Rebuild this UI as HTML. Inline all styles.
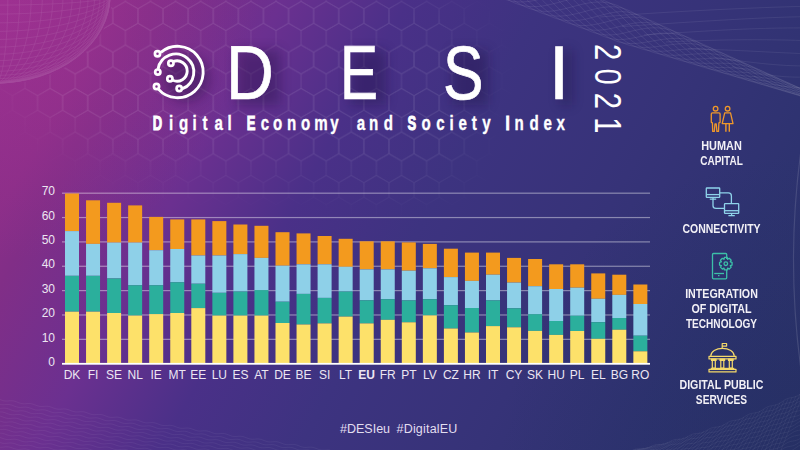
<!DOCTYPE html>
<html><head><meta charset="utf-8"><style>
html,body{margin:0;padding:0;}
body{width:800px;height:450px;overflow:hidden;position:relative;
background:linear-gradient(118.8deg,#922e8b 0%,#8a2e88 11%,#812e87 15%,#6b3090 27%,#4a3088 39%,#3d3380 52%,#363378 69%,#2e3370 84%,#2a3268 100%);
font-family:"Liberation Sans",sans-serif;}
svg{position:absolute;left:0;top:0;}
.t{position:absolute;color:#fff;white-space:nowrap;}
.big{font-size:76px;line-height:1;top:35px;transform-origin:0 0;-webkit-text-stroke:0.7px #fff;}
.sub{font-size:20px;top:112px;left:152px;letter-spacing:3.26px;}
.sub b{font-weight:bold;}
.yr{font-size:36.5px;line-height:1;left:625px;top:43.5px;transform-origin:0 0;transform:rotate(90deg) scaleX(0.8);letter-spacing:10.2px;}
.leg{position:absolute;left:651px;width:141px;text-align:center;color:#f2f0f6;font-weight:bold;font-size:12px;line-height:15px;transform-origin:70.5px 0;}
.hash{position:absolute;top:422px;color:#e2def0;font-size:12.5px;}
</style></head><body>
<svg width="800" height="450" viewBox="0 0 800 450"><defs>
<pattern id="hx" width="25.1" height="43.5" patternUnits="userSpaceOnUse" patternTransform="translate(276 16)">
<path d="M0 -14.5 L12.55 -7.25 L12.55 7.25 L0 14.5 L-12.55 7.25 L-12.55 -7.25ZM25.1 -14.5 L37.65 -7.25 L37.65 7.25 L25.1 14.5 L12.55 7.25 L12.55 -7.25ZM0 29 L12.55 36.25 L12.55 50.75 L0 58 L-12.55 50.75 L-12.55 36.25ZM25.1 29 L37.65 36.25 L37.65 50.75 L25.1 58 L12.55 50.75 L12.55 36.25ZM12.55 7.25 L25.1 14.5 L25.1 29 L12.55 36.25 L0 29 L0 14.5Z" fill="none" stroke="#fff" stroke-width="0.9"/>
</pattern>
<radialGradient id="hm" cx="250" cy="120" r="330" gradientUnits="userSpaceOnUse">
<stop offset="0" stop-color="#fff" stop-opacity="1"/>
<stop offset="0.55" stop-color="#fff" stop-opacity="0.7"/>
<stop offset="1" stop-color="#fff" stop-opacity="0"/>
</radialGradient>
<filter id="mb" x="-50%" y="-50%" width="200%" height="200%"><feGaussianBlur stdDeviation="22"/></filter><mask id="hmask"><g filter="url(#mb)"><ellipse cx="250" cy="70" rx="235" ry="105" fill="#fff"/><ellipse cx="380" cy="150" rx="90" ry="40" fill="#fff"/></g><ellipse cx="-4" cy="-4" rx="116" ry="89" fill="#000"/></mask>
<radialGradient id="tl" cx="0" cy="0" r="260" gradientUnits="userSpaceOnUse">
<stop offset="0" stop-color="#b0359a" stop-opacity="0.4"/>
<stop offset="1" stop-color="#b0359a" stop-opacity="0"/>
</radialGradient>
<radialGradient id="br" cx="800" cy="450" r="300" gradientUnits="userSpaceOnUse">
<stop offset="0" stop-color="#1c2a5a" stop-opacity="0.3"/>
<stop offset="1" stop-color="#1c2a5a" stop-opacity="0"/>
</radialGradient>
<filter id="sh" x="-50%" y="-50%" width="200%" height="200%"><feGaussianBlur stdDeviation="6"/></filter>
</defs><rect width="800" height="450" fill="url(#tl)"/><rect width="800" height="450" fill="url(#br)"/><rect width="800" height="450" fill="url(#hx)" mask="url(#hmask)" opacity="0.1"/><g fill="none" stroke="#fff" stroke-width="0.55" opacity="0.12"><ellipse cx="-4" cy="-4" rx="114" ry="9.09"/><ellipse cx="-4" cy="-4" rx="11.92" ry="87"/><ellipse cx="-4" cy="-4" rx="114" ry="18.09"/><ellipse cx="-4" cy="-4" rx="23.7" ry="87"/><ellipse cx="-4" cy="-4" rx="114" ry="26.88"/><ellipse cx="-4" cy="-4" rx="35.23" ry="87"/><ellipse cx="-4" cy="-4" rx="114" ry="35.39"/><ellipse cx="-4" cy="-4" rx="46.37" ry="87"/><ellipse cx="-4" cy="-4" rx="114" ry="43.5"/><ellipse cx="-4" cy="-4" rx="57" ry="87"/><ellipse cx="-4" cy="-4" rx="114" ry="51.14"/><ellipse cx="-4" cy="-4" rx="67.01" ry="87"/><ellipse cx="-4" cy="-4" rx="114" ry="58.21"/><ellipse cx="-4" cy="-4" rx="76.28" ry="87"/><ellipse cx="-4" cy="-4" rx="114" ry="64.65"/><ellipse cx="-4" cy="-4" rx="84.72" ry="87"/><ellipse cx="-4" cy="-4" rx="114" ry="70.38"/><ellipse cx="-4" cy="-4" rx="92.23" ry="87"/><ellipse cx="-4" cy="-4" rx="114" ry="75.34"/><ellipse cx="-4" cy="-4" rx="98.73" ry="87"/><ellipse cx="-4" cy="-4" rx="114" ry="79.48"/><ellipse cx="-4" cy="-4" rx="104.14" ry="87"/><ellipse cx="-4" cy="-4" rx="114" ry="82.74"/><ellipse cx="-4" cy="-4" rx="108.42" ry="87"/><ellipse cx="-4" cy="-4" rx="114" ry="85.1"/><ellipse cx="-4" cy="-4" rx="111.51" ry="87"/><ellipse cx="-4" cy="-4" rx="114" ry="86.52"/><ellipse cx="-4" cy="-4" rx="113.38" ry="87"/><ellipse cx="-4" cy="-4" rx="114" ry="87"/><ellipse cx="-4" cy="-4" rx="114" ry="87"/></g><path d="M480 -33.05 L483.67 -33.89 L487.33 -34.6 L491 -35.16 L494.67 -35.52 L498.33 -35.65 L502 -35.54 L505.67 -35.16 L509.33 -34.49 L513 -33.52 L516.67 -32.25 L520.33 -30.66 L524 -28.77 L527.67 -26.59 L531.33 -24.12 L535 -21.39 L538.67 -18.43 L542.33 -15.24 L546 -11.88 L549.67 -8.37 L553.33 -4.75 L557 -1.05 L560.67 2.68 L564.33 6.4 L568 10.07 L571.67 13.66 L575.33 17.12 L579 20.42 L582.67 23.53 L586.33 26.42 L590 29.05 L593.67 31.42 L597.33 33.49 L601 35.27 L604.67 36.74 L608.33 37.91 L612 38.77 L615.67 39.33 L619.33 39.61 L623 39.45 L626.67 39.05 L630.33 38.5 L634 37.84 L637.67 37.1 L641.33 36.33 L645 35.57 L648.67 34.85 L652.33 34.22 L656 33.7 L659.67 33.33 L663.33 33.13 L667 33.12 L670.67 33.33 L674.33 33.76 L678 34.42 L681.67 35.33 L685.33 36.47 L689 37.84 L692.67 39.44 L696.33 41.25 L700 43.24 L703.67 45.41 L707.33 47.73 L711 50.17 L714.67 52.71 L718.33 55.32 L722 57.97 L725.67 60.64 L729.33 63.3 L733 65.92 L736.67 68.48 L740.33 70.97 L744 73.36 L747.67 75.63 L751.33 77.79 L755 79.81 L758.67 81.69 L762.33 83.43 L766 85.03 L769.67 86.5 L773.33 87.84 L777 89.06 L780.67 90.17 L784.33 91.2 L788 92.15 L791.67 93.04 L795.33 93.9 L799 94.72 L802.67 95.55 L806.33 96.38 L810 97.24 M480 -40.05 L483.67 -40.32 L487.33 -40.35 L491 -40.12 L494.67 -39.62 L498.33 -38.83 L502 -37.73 L505.67 -36.32 L509.33 -34.6 L513 -32.59 L516.67 -30.28 L520.33 -27.7 L524 -24.87 L527.67 -21.8 L531.33 -18.54 L535 -15.11 L538.67 -11.54 L542.33 -7.89 L546 -4.17 L549.67 -0.44 L553.33 3.26 L557 6.91 L560.67 10.44 L564.33 13.84 L568 17.06 L571.67 20.08 L575.33 22.86 L579 25.38 L582.67 27.63 L586.33 29.58 L590 31.23 L593.67 32.57 L597.33 33.6 L601 34.33 L604.67 34.77 L608.33 34.94 L612 34.85 L615.67 34.54 L619.33 34.02 L623 33.24 L626.67 32.36 L630.33 31.47 L634 30.59 L637.67 29.78 L641.33 29.06 L645 28.48 L648.67 28.06 L652.33 27.83 L656 27.81 L659.67 28.02 L663.33 28.48 L667 29.18 L670.67 30.14 L674.33 31.35 L678 32.81 L681.67 34.49 L685.33 36.4 L689 38.51 L692.67 40.8 L696.33 43.24 L700 45.8 L703.67 48.47 L707.33 51.2 L711 53.98 L714.67 56.76 L718.33 59.53 L722 62.26 L725.67 64.92 L729.33 67.5 L733 69.96 L736.67 72.31 L740.33 74.51 L744 76.58 L747.67 78.49 L751.33 80.24 L755 81.85 L758.67 83.31 L762.33 84.63 L766 85.82 L769.67 86.89 L773.33 87.86 L777 88.75 L780.67 89.57 L784.33 90.35 L788 91.09 L791.67 91.82 L795.33 92.56 L799 93.33 L802.67 94.13 L806.33 94.98 L810 95.9 M480 -44.66 L483.67 -44.03 L487.33 -43.11 L491 -41.87 L494.67 -40.34 L498.33 -38.49 L502 -36.35 L505.67 -33.92 L509.33 -31.23 L513 -28.3 L516.67 -25.14 L520.33 -21.8 L524 -18.31 L527.67 -14.7 L531.33 -11.02 L535 -7.29 L538.67 -3.57 L542.33 0.12 L546 3.72 L549.67 7.2 L553.33 10.53 L557 13.67 L560.67 16.59 L564.33 19.26 L568 21.67 L571.67 23.79 L575.33 25.61 L579 27.12 L582.67 28.33 L586.33 29.24 L590 29.84 L593.67 30.16 L597.33 30.22 L601 30.03 L604.67 29.63 L608.33 29.03 L612 28.29 L615.67 27.43 L619.33 26.49 L623 25.52 L626.67 24.61 L630.33 23.82 L634 23.18 L637.67 22.73 L641.33 22.48 L645 22.46 L648.67 22.69 L652.33 23.18 L656 23.94 L659.67 24.96 L663.33 26.25 L667 27.8 L670.67 29.6 L674.33 31.62 L678 33.85 L681.67 36.26 L685.33 38.83 L689 41.53 L692.67 44.32 L696.33 47.19 L700 50.08 L703.67 52.99 L707.33 55.87 L711 58.7 L714.67 61.46 L718.33 64.12 L722 66.65 L725.67 69.05 L729.33 71.31 L733 73.4 L736.67 75.33 L740.33 77.09 L744 78.69 L747.67 80.13 L751.33 81.41 L755 82.56 L758.67 83.58 L762.33 84.49 L766 85.3 L769.67 86.04 L773.33 86.73 L777 87.38 L780.67 88.02 L784.33 88.66 L788 89.32 L791.67 90.02 L795.33 90.77 L799 91.59 L802.67 92.48 L806.33 93.46 L810 94.53 M480 -45.97 L483.67 -44.3 L487.33 -42.33 L491 -40.06 L494.67 -37.52 L498.33 -34.72 L502 -31.69 L505.67 -28.45 L509.33 -25.04 L513 -21.49 L516.67 -17.85 L520.33 -14.14 L524 -10.41 L527.67 -6.7 L531.33 -3.04 L535 0.51 L538.67 3.93 L542.33 7.18 L546 10.23 L549.67 13.05 L553.33 15.61 L557 17.89 L560.67 19.89 L564.33 21.58 L568 22.97 L571.67 24.04 L575.33 24.82 L579 25.3 L582.67 25.51 L586.33 25.45 L590 25.17 L593.67 24.68 L597.33 24.02 L601 23.22 L604.67 22.33 L608.33 21.37 L612 20.39 L615.67 19.42 L619.33 18.52 L623 17.82 L626.67 17.34 L630.33 17.08 L634 17.08 L637.67 17.34 L641.33 17.88 L645 18.7 L648.67 19.81 L652.33 21.19 L656 22.85 L659.67 24.76 L663.33 26.9 L667 29.26 L670.67 31.81 L674.33 34.52 L678 37.35 L681.67 40.28 L685.33 43.27 L689 46.3 L692.67 49.32 L696.33 52.31 L700 55.24 L703.67 58.08 L707.33 60.82 L711 63.42 L714.67 65.87 L718.33 68.15 L722 70.27 L725.67 72.21 L729.33 73.96 L733 75.54 L736.67 76.95 L740.33 78.19 L744 79.28 L747.67 80.23 L751.33 81.07 L755 81.8 L758.67 82.45 L762.33 83.04 L766 83.59 L769.67 84.12 L773.33 84.66 L777 85.22 L780.67 85.81 L784.33 86.47 L788 87.19 L791.67 87.99 L795.33 88.88 L799 89.86 L802.67 90.94 L806.33 92.12 L810 93.4 M480 -43.72 L483.67 -41.06 L487.33 -38.16 L491 -35.04 L494.67 -31.73 L498.33 -28.25 L502 -24.66 L505.67 -20.98 L509.33 -17.26 L513 -13.53 L516.67 -9.84 L520.33 -6.22 L524 -2.72 L527.67 0.63 L531.33 3.8 L535 6.75 L538.67 9.46 L542.33 11.91 L546 14.07 L549.67 15.94 L553.33 17.5 L557 18.75 L560.67 19.7 L564.33 20.35 L568 20.71 L571.67 20.8 L575.33 20.65 L579 20.27 L582.67 19.71 L586.33 18.98 L590 18.14 L593.67 17.21 L597.33 16.24 L601 15.26 L604.67 14.32 L608.33 13.45 L612 12.7 L615.67 12.1 L619.33 11.69 L623 11.67 L626.67 11.98 L630.33 12.58 L634 13.48 L637.67 14.68 L641.33 16.17 L645 17.94 L648.67 19.98 L652.33 22.26 L656 24.76 L659.67 27.45 L663.33 30.3 L667 33.27 L670.67 36.34 L674.33 39.46 L678 42.61 L681.67 45.75 L685.33 48.85 L689 51.87 L692.67 54.8 L696.33 57.6 L700 60.25 L703.67 62.74 L707.33 65.05 L711 67.18 L714.67 69.11 L718.33 70.85 L722 72.4 L725.67 73.76 L729.33 74.94 L733 75.97 L736.67 76.84 L740.33 77.59 L744 78.23 L747.67 78.78 L751.33 79.27 L755 79.71 L758.67 80.14 L762.33 80.57 L766 81.02 L769.67 81.51 L773.33 82.06 L777 82.69 L780.67 83.4 L784.33 84.21 L788 85.12 L791.67 86.13 L795.33 87.26 L799 88.48 L802.67 89.81 L806.33 91.23 L810 92.73 M480 -38.36 L483.67 -34.97 L487.33 -31.44 L491 -27.81 L494.67 -24.11 L498.33 -20.38 L502 -16.66 L505.67 -13 L509.33 -9.42 L513 -5.98 L516.67 -2.7 L520.33 0.38 L524 3.23 L527.67 5.83 L531.33 8.15 L535 10.19 L538.67 11.93 L542.33 13.36 L546 14.48 L549.67 15.3 L553.33 15.82 L557 16.07 L560.67 16.05 L564.33 15.8 L568 15.34 L571.67 14.7 L575.33 13.92 L579 13.04 L582.67 12.08 L586.33 11.1 L590 10.14 L593.67 9.22 L597.33 8.4 L601 7.71 L604.67 7.19 L608.33 6.86 L612 6.76 L615.67 6.91 L619.33 7.34 L623 8.28 L626.67 9.59 L630.33 11.2 L634 13.1 L637.67 15.28 L641.33 17.7 L645 20.34 L648.67 23.18 L652.33 26.18 L656 29.29 L659.67 32.5 L663.33 35.76 L667 39.03 L670.67 42.28 L674.33 45.48 L678 48.59 L681.67 51.59 L685.33 54.45 L689 57.15 L692.67 59.67 L696.33 62 L700 64.12 L703.67 66.04 L707.33 67.75 L711 69.25 L714.67 70.55 L718.33 71.67 L722 72.61 L725.67 73.4 L729.33 74.05 L733 74.59 L736.67 75.04 L740.33 75.41 L744 75.75 L747.67 76.06 L751.33 76.38 L755 76.72 L758.67 77.11 L762.33 77.56 L766 78.1 L769.67 78.72 L773.33 79.45 L777 80.3 L780.67 81.25 L784.33 82.33 L788 83.52 L791.67 84.82 L795.33 86.23 L799 87.73 L802.67 89.31 L806.33 90.96 L810 92.67 M480 -30.94 L483.67 -27.23 L487.33 -23.5 L491 -19.8 L494.67 -16.17 L498.33 -12.65 L502 -9.27 L505.67 -6.08 L509.33 -3.09 L513 -0.34 L516.67 2.14 L520.33 4.35 L524 6.26 L527.67 7.87 L531.33 9.16 L535 10.15 L538.67 10.85 L542.33 11.25 L546 11.38 L549.67 11.26 L553.33 10.91 L557 10.37 L560.67 9.67 L564.33 8.84 L568 7.92 L571.67 6.95 L575.33 5.97 L579 5.03 L582.67 4.15 L586.33 3.38 L590 2.75 L593.67 2.31 L597.33 2.07 L601 2.08 L604.67 2.35 L608.33 2.89 L612 3.74 L615.67 4.88 L619.33 6.34 L623 8.33 L626.67 10.65 L630.33 13.23 L634 16.02 L637.67 19.01 L641.33 22.16 L645 25.43 L648.67 28.77 L652.33 32.16 L656 35.55 L659.67 38.92 L663.33 42.21 L667 45.4 L670.67 48.47 L674.33 51.38 L678 54.11 L681.67 56.65 L685.33 58.98 L689 61.09 L692.67 62.98 L696.33 64.64 L700 66.09 L703.67 67.32 L707.33 68.36 L711 69.21 L714.67 69.9 L718.33 70.45 L722 70.88 L725.67 71.21 L729.33 71.47 L733 71.69 L736.67 71.89 L740.33 72.09 L744 72.33 L747.67 72.61 L751.33 72.97 L755 73.41 L758.67 73.96 L762.33 74.62 L766 75.4 L769.67 76.31 L773.33 77.35 L777 78.51 L780.67 79.8 L784.33 81.2 L788 82.71 L791.67 84.31 L795.33 85.99 L799 87.74 L802.67 89.54 L806.33 91.37 L810 93.21 M480 -22.95 L483.67 -19.36 L487.33 -15.9 L491 -12.59 L494.67 -9.48 L498.33 -6.6 L502 -3.96 L505.67 -1.59 L509.33 0.49 L513 2.27 L516.67 3.75 L520.33 4.91 L524 5.77 L527.67 6.34 L531.33 6.62 L535 6.64 L538.67 6.43 L542.33 5.99 L546 5.38 L549.67 4.62 L553.33 3.75 L557 2.8 L560.67 1.82 L564.33 0.85 L568 -0.07 L571.67 -0.91 L575.33 -1.62 L579 -2.17 L582.67 -2.53 L586.33 -2.67 L590 -2.55 L593.67 -2.17 L597.33 -1.49 L601 -0.52 L604.67 0.76 L608.33 2.34 L612 4.23 L615.67 6.42 L619.33 8.89 L623 11.8 L626.67 14.95 L630.33 18.25 L634 21.66 L637.67 25.15 L641.33 28.67 L645 32.18 L648.67 35.65 L652.33 39.03 L656 42.3 L659.67 45.42 L663.33 48.37 L667 51.13 L670.67 53.67 L674.33 55.99 L678 58.08 L681.67 59.92 L685.33 61.53 L689 62.91 L692.67 64.06 L696.33 65 L700 65.76 L703.67 66.34 L707.33 66.77 L711 67.08 L714.67 67.29 L718.33 67.43 L722 67.53 L725.67 67.61 L729.33 67.7 L733 67.83 L736.67 68.02 L740.33 68.28 L744 68.64 L747.67 69.12 L751.33 69.71 L755 70.44 L758.67 71.31 L762.33 72.32 L766 73.47 L769.67 74.75 L773.33 76.16 L777 77.69 L780.67 79.33 L784.33 81.05 L788 82.85 L791.67 84.71 L795.33 86.6 L799 88.53 L802.67 90.45 L806.33 92.37 L810 94.26 M480 -15.95 L483.67 -12.93 L487.33 -10.15 L491 -7.63 L494.67 -5.38 L498.33 -3.42 L502 -1.77 L505.67 -0.43 L509.33 0.6 L513 1.34 L516.67 1.78 L520.33 1.95 L524 1.87 L527.67 1.55 L531.33 1.04 L535 0.36 L538.67 -0.46 L542.33 -1.36 L546 -2.33 L549.67 -3.31 L553.33 -4.26 L557 -5.16 L560.67 -5.94 L564.33 -6.59 L568 -7.06 L571.67 -7.33 L575.33 -7.36 L579 -7.13 L582.67 -6.63 L586.33 -5.83 L590 -4.73 L593.67 -3.32 L597.33 -1.6 L601 0.42 L604.67 2.73 L608.33 5.31 L612 8.15 L615.67 11.21 L619.33 14.48 L623 18.01 L626.67 21.64 L630.33 25.28 L634 28.91 L637.67 32.47 L641.33 35.94 L645 39.27 L648.67 42.44 L652.33 45.42 L656 48.19 L659.67 50.73 L663.33 53.02 L667 55.07 L670.67 56.86 L674.33 58.4 L678 59.69 L681.67 60.76 L685.33 61.6 L689 62.24 L692.67 62.7 L696.33 63.01 L700 63.2 L703.67 63.28 L707.33 63.3 L711 63.27 L714.67 63.24 L718.33 63.22 L722 63.24 L725.67 63.33 L729.33 63.5 L733 63.79 L736.67 64.19 L740.33 64.74 L744 65.42 L747.67 66.26 L751.33 67.26 L755 68.4 L758.67 69.69 L762.33 71.12 L766 72.68 L769.67 74.36 L773.33 76.14 L777 78 L780.67 79.93 L784.33 81.9 L788 83.91 L791.67 85.93 L795.33 87.94 L799 89.92 L802.67 91.87 L806.33 93.77 L810 95.6 M480 -11.34 L483.67 -9.22 L487.33 -7.39 L491 -5.88 L494.67 -4.66 L498.33 -3.76 L502 -3.15 L505.67 -2.83 L509.33 -2.77 L513 -2.95 L516.67 -3.36 L520.33 -3.95 L524 -4.69 L527.67 -5.55 L531.33 -6.48 L535 -7.46 L538.67 -8.43 L542.33 -9.37 L546 -10.22 L549.67 -10.95 L553.33 -11.53 L557 -11.92 L560.67 -12.09 L564.33 -12.01 L568 -11.67 L571.67 -11.04 L575.33 -10.11 L579 -8.87 L582.67 -7.33 L586.33 -5.49 L590 -3.34 L593.67 -0.91 L597.33 1.78 L601 4.72 L604.67 7.87 L608.33 11.22 L612 14.71 L615.67 18.32 L619.33 22.01 L623 25.73 L626.67 29.39 L630.33 32.93 L634 36.32 L637.67 39.52 L641.33 42.52 L645 45.29 L648.67 47.81 L652.33 50.07 L656 52.06 L659.67 53.79 L663.33 55.25 L667 56.45 L670.67 57.4 L674.33 58.13 L678 58.65 L681.67 58.99 L685.33 59.17 L689 59.22 L692.67 59.18 L696.33 59.06 L700 58.92 L703.67 58.76 L707.33 58.63 L711 58.55 L714.67 58.54 L718.33 58.63 L722 58.85 L725.67 59.2 L729.33 59.69 L733 60.35 L736.67 61.17 L740.33 62.16 L744 63.31 L747.67 64.62 L751.33 66.09 L755 67.69 L758.67 69.42 L762.33 71.26 L766 73.2 L769.67 75.21 L773.33 77.27 L777 79.37 L780.67 81.48 L784.33 83.59 L788 85.68 L791.67 87.73 L795.33 89.73 L799 91.66 L802.67 93.52 L806.33 95.29 L810 96.97 M480 -10.03 L483.67 -8.95 L487.33 -8.17 L491 -7.69 L494.67 -7.48 L498.33 -7.53 L502 -7.81 L505.67 -8.3 L509.33 -8.96 L513 -9.76 L516.67 -10.65 L520.33 -11.61 L524 -12.59 L527.67 -13.55 L531.33 -14.46 L535 -15.26 L538.67 -15.93 L542.33 -16.43 L546 -16.73 L549.67 -16.8 L553.33 -16.61 L557 -16.14 L560.67 -15.39 L564.33 -14.33 L568 -12.97 L571.67 -11.29 L575.33 -9.32 L579 -7.05 L582.67 -4.51 L586.33 -1.7 L590 1.33 L593.67 4.57 L597.33 7.98 L601 11.53 L604.67 15.17 L608.33 18.88 L612 22.61 L615.67 26.33 L619.33 29.98 L623 33.43 L626.67 36.66 L630.33 39.67 L634 42.42 L637.67 44.91 L641.33 47.12 L645 49.05 L648.67 50.69 L652.33 52.06 L656 53.15 L659.67 53.99 L663.33 54.6 L667 54.99 L670.67 55.19 L674.33 55.23 L678 55.15 L681.67 54.97 L685.33 54.73 L689 54.45 L692.67 54.18 L696.33 53.94 L700 53.76 L703.67 53.67 L707.33 53.68 L711 53.83 L714.67 54.13 L718.33 54.6 L722 55.23 L725.67 56.04 L729.33 57.04 L733 58.21 L736.67 59.55 L740.33 61.06 L744 62.72 L747.67 64.52 L751.33 66.43 L755 68.45 L758.67 70.55 L762.33 72.71 L766 74.91 L769.67 77.13 L773.33 79.34 L777 81.53 L780.67 83.69 L784.33 85.78 L788 87.81 L791.67 89.76 L795.33 91.62 L799 93.39 L802.67 95.06 L806.33 96.63 L810 98.1 M480 -12.28 L483.67 -12.19 L487.33 -12.34 L491 -12.71 L494.67 -13.27 L498.33 -14 L502 -14.84 L505.67 -15.77 L509.33 -16.74 L513 -17.72 L516.67 -18.66 L520.33 -19.53 L524 -20.28 L527.67 -20.88 L531.33 -21.3 L535 -21.5 L538.67 -21.46 L542.33 -21.16 L546 -20.57 L549.67 -19.69 L553.33 -18.5 L557 -17 L560.67 -15.2 L564.33 -13.1 L568 -10.71 L571.67 -8.05 L575.33 -5.15 L579 -2.02 L582.67 1.29 L586.33 4.77 L590 8.36 L593.67 12.04 L597.33 15.76 L601 19.49 L604.67 23.18 L608.33 26.8 L612 30.3 L615.67 33.65 L619.33 36.81 L623 39.58 L626.67 42.02 L630.33 44.17 L634 46.02 L637.67 47.57 L641.33 48.83 L645 49.81 L648.67 50.52 L652.33 50.99 L656 51.24 L659.67 51.3 L663.33 51.2 L667 50.98 L670.67 50.66 L674.33 50.29 L678 49.89 L681.67 49.5 L685.33 49.15 L689 48.88 L692.67 48.7 L696.33 48.65 L700 48.75 L703.67 49.01 L707.33 49.45 L711 50.07 L714.67 50.89 L718.33 51.9 L722 53.1 L725.67 54.49 L729.33 56.06 L733 57.78 L736.67 59.66 L740.33 61.66 L744 63.77 L747.67 65.97 L751.33 68.23 L755 70.54 L758.67 72.86 L762.33 75.18 L766 77.48 L769.67 79.74 L773.33 81.94 L777 84.06 L780.67 86.1 L784.33 88.04 L788 89.88 L791.67 91.62 L795.33 93.24 L799 94.77 L802.67 96.19 L806.33 97.52 L810 98.77 M480 -17.64 L483.67 -18.28 L487.33 -19.06 L491 -19.94 L494.67 -20.89 L498.33 -21.87 L502 -22.84 L505.67 -23.75 L509.33 -24.58 L513 -25.27 L516.67 -25.8 L520.33 -26.13 L524 -26.23 L527.67 -26.08 L531.33 -25.65 L535 -24.94 L538.67 -23.93 L542.33 -22.61 L546 -20.98 L549.67 -19.05 L553.33 -16.82 L557 -14.32 L560.67 -11.55 L564.33 -8.55 L568 -5.34 L571.67 -1.95 L575.33 1.58 L579 5.21 L582.67 8.92 L586.33 12.65 L590 16.36 L593.67 20.03 L597.33 23.6 L601 27.04 L604.67 30.31 L608.33 33.39 L612 36.24 L615.67 38.84 L619.33 41.16 L623 42.97 L626.67 44.41 L630.33 45.55 L634 46.4 L637.67 46.97 L641.33 47.3 L645 47.41 L648.67 47.32 L652.33 47.07 L656 46.71 L659.67 46.25 L663.33 45.74 L667 45.22 L670.67 44.72 L674.33 44.27 L678 43.91 L681.67 43.66 L685.33 43.55 L689 43.6 L692.67 43.83 L696.33 44.25 L700 44.88 L703.67 45.71 L707.33 46.75 L711 48 L714.67 49.45 L718.33 51.08 L722 52.89 L725.67 54.85 L729.33 56.95 L733 59.16 L736.67 61.46 L740.33 63.84 L744 66.25 L747.67 68.69 L751.33 71.12 L755 73.53 L758.67 75.89 L762.33 78.19 L766 80.4 L769.67 82.53 L773.33 84.55 L777 86.45 L780.67 88.25 L784.33 89.92 L788 91.48 L791.67 92.93 L795.33 94.27 L799 95.52 L802.67 96.69 L806.33 97.79 L810 98.83 M480 -25.06 L483.67 -26.02 L487.33 -27 L491 -27.95 L494.67 -28.83 L498.33 -29.6 L502 -30.23 L505.67 -30.67 L509.33 -30.91 L513 -30.91 L516.67 -30.64 L520.33 -30.1 L524 -29.26 L527.67 -28.12 L531.33 -26.66 L535 -24.9 L538.67 -22.85 L542.33 -20.5 L546 -17.88 L549.67 -15.01 L553.33 -11.91 L557 -8.62 L560.67 -5.17 L564.33 -1.59 L568 2.08 L571.67 5.8 L575.33 9.53 L579 13.22 L582.67 16.85 L586.33 20.37 L590 23.75 L593.67 26.94 L597.33 29.93 L601 32.67 L604.67 35.15 L608.33 37.36 L612 39.26 L615.67 40.87 L619.33 42.16 L623 42.92 L626.67 43.35 L630.33 43.52 L634 43.48 L637.67 43.24 L641.33 42.84 L645 42.32 L648.67 41.73 L652.33 41.09 L656 40.45 L659.67 39.83 L663.33 39.29 L667 38.85 L670.67 38.53 L674.33 38.37 L678 38.39 L681.67 38.6 L685.33 39.02 L689 39.66 L692.67 40.52 L696.33 41.61 L700 42.91 L703.67 44.43 L707.33 46.14 L711 48.04 L714.67 50.1 L718.33 52.3 L722 54.62 L725.67 57.04 L729.33 59.53 L733 62.06 L736.67 64.61 L740.33 67.16 L744 69.67 L747.67 72.14 L751.33 74.53 L755 76.84 L758.67 79.04 L762.33 81.13 L766 83.1 L769.67 84.94 L773.33 86.65 L777 88.24 L780.67 89.7 L784.33 91.05 L788 92.29 L791.67 93.44 L795.33 94.51 L799 95.51 L802.67 96.46 L806.33 97.38 L810 98.29" fill="none" stroke="#fff" stroke-width="0.55" opacity="0.14"/><path d="M600 17 L607 16.43 L614 15.88 L621 15.35 L628 14.85 L635 14.36 L642 13.89 L649 13.43 L656 12.99 L663 12.56 L670 12.15 L677 11.75 L684 11.36 L691 10.98 L698 10.61 L705 10.25 L712 9.89 L719 9.55 L726 9.22 L733 8.9 L740 8.59 L747 8.28 L754 7.99 L761 7.72 L768 7.45 L775 7.2 L782 6.97 L789 6.75 L796 6.55 L803 6.37 L810 6.21 M622 26.51 L628.27 26.09 L634.53 25.67 L640.8 25.26 L647.07 24.85 L653.33 24.44 L659.6 24.03 L665.87 23.63 L672.13 23.22 L678.4 22.82 L684.67 22.42 L690.93 22.02 L697.2 21.63 L703.47 21.24 L709.73 20.86 L716 20.49 L722.27 20.12 L728.53 19.76 L734.8 19.41 L741.07 19.07 L747.33 18.75 L753.6 18.44 L759.87 18.15 L766.13 17.87 L772.4 17.62 L778.67 17.38 L784.93 17.17 L791.2 16.98 L797.47 16.82 L803.73 16.68 L810 16.56 M644 34.86 L649.53 34.53 L655.07 34.18 L660.6 33.84 L666.13 33.49 L671.67 33.14 L677.2 32.8 L682.73 32.45 L688.27 32.11 L693.8 31.77 L699.33 31.43 L704.87 31.11 L710.4 30.79 L715.93 30.48 L721.47 30.18 L727 29.9 L732.53 29.63 L738.07 29.38 L743.6 29.14 L749.13 28.92 L754.67 28.72 L760.2 28.54 L765.73 28.38 L771.27 28.25 L776.8 28.14 L782.33 28.05 L787.87 27.98 L793.4 27.94 L798.93 27.92 L804.47 27.93 L810 27.96 M666 41.96 L670.8 41.77 L675.6 41.58 L680.4 41.39 L685.2 41.2 L690 41.03 L694.8 40.85 L699.6 40.69 L704.4 40.53 L709.2 40.39 L714 40.25 L718.8 40.13 L723.6 40.03 L728.4 39.93 L733.2 39.86 L738 39.8 L742.8 39.75 L747.6 39.72 L752.4 39.71 L757.2 39.71 L762 39.73 L766.8 39.77 L771.6 39.82 L776.4 39.89 L781.2 39.97 L786 40.06 L790.8 40.16 L795.6 40.28 L800.4 40.41 L805.2 40.54 L810 40.68 M688 48.86 L692.07 48.96 L696.13 49.05 L700.2 49.16 L704.27 49.27 L708.33 49.39 L712.4 49.52 L716.47 49.65 L720.53 49.8 L724.6 49.95 L728.67 50.12 L732.73 50.29 L736.8 50.47 L740.87 50.65 L744.93 50.84 L749 51.04 L753.07 51.24 L757.13 51.45 L761.2 51.66 L765.27 51.86 L769.33 52.07 L773.4 52.27 L777.47 52.48 L781.53 52.67 L785.6 52.86 L789.67 53.04 L793.73 53.22 L797.8 53.38 L801.87 53.53 L805.93 53.66 L810 53.79 M710 56.81 L713.33 57.27 L716.67 57.73 L720 58.19 L723.33 58.65 L726.67 59.1 L730 59.55 L733.33 60 L736.67 60.44 L740 60.88 L743.33 61.3 L746.67 61.72 L750 62.13 L753.33 62.52 L756.67 62.9 L760 63.26 L763.33 63.61 L766.67 63.93 L770 64.24 L773.33 64.53 L776.67 64.79 L780 65.03 L783.33 65.25 L786.67 65.44 L790 65.6 L793.33 65.73 L796.67 65.84 L800 65.92 L803.33 65.97 L806.67 65.99 L810 65.98 M732 66.08 L734.6 66.86 L737.2 67.63 L739.8 68.37 L742.4 69.09 L745 69.79 L747.6 70.46 L750.2 71.11 L752.8 71.72 L755.4 72.31 L758 72.87 L760.6 73.4 L763.2 73.9 L765.8 74.36 L768.4 74.79 L771 75.18 L773.6 75.54 L776.2 75.86 L778.8 76.15 L781.4 76.39 L784 76.61 L786.6 76.78 L789.2 76.92 L791.8 77.03 L794.4 77.09 L797 77.13 L799.6 77.13 L802.2 77.1 L804.8 77.03 L807.4 76.94 L810 76.82 M754 75.74 L755.87 76.71 L757.73 77.64 L759.6 78.52 L761.47 79.37 L763.33 80.18 L765.2 80.94 L767.07 81.65 L768.93 82.33 L770.8 82.95 L772.67 83.54 L774.53 84.08 L776.4 84.58 L778.27 85.03 L780.13 85.44 L782 85.81 L783.87 86.14 L785.73 86.43 L787.6 86.67 L789.47 86.88 L791.33 87.06 L793.2 87.2 L795.07 87.3 L796.93 87.37 L798.8 87.41 L800.67 87.42 L802.53 87.4 L804.4 87.36 L806.27 87.29 L808.13 87.2 L810 87.08" fill="none" stroke="#fff" stroke-width="0.6" opacity="0.12"/><path d="M-10 398.29 L-8 398.11 L-6 398.03 L-4 398.24 L-2 398.78 L0 399.55 L2 400.32 L4 400.86 L6 401.07 L8 400.99 L10 400.81 L12 400.77 L14 401.05 L16 401.65 L18 402.44 L20 403.18 L22 403.66 L24 403.8 L26 403.68 L28 403.51 L30 403.53 L32 403.87 L34 404.53 L36 405.33 L38 406.03 L40 406.44 L42 406.52 L44 406.37 L46 406.22 L48 406.3 L50 406.71 L52 407.42 L54 408.22 L56 408.87 L58 409.21 L60 409.22 L62 409.05 L64 408.94 L66 409.08 L68 409.57 L70 410.31 L72 411.09 L74 411.69 L76 411.96 L78 411.92 L80 411.75 L82 411.67 L84 411.88 L86 412.43 L88 413.2 L90 413.97 L92 414.5 L94 414.7 L96 414.62 L98 414.44 L100 414.41 L102 414.69 L104 415.3 L106 416.09 L108 416.83 L110 417.3 L112 417.43 L114 417.31 L116 417.14 L118 417.17 L120 417.52 L122 418.18 L124 418.98 L126 419.68 L128 420.08 L130 420.15 L132 420 L134 419.85 L136 419.94 L138 420.36 L140 421.07 L142 421.86 L144 422.51 L146 422.85 L148 422.86 L150 422.69 L152 422.57 L154 422.72 L156 423.21 L158 423.96 L160 424.74 L162 425.34 L164 425.6 L166 425.56 L168 425.38 L170 425.3 L172 425.52 L174 426.07 L176 426.85 L178 427.61 L180 428.15 L182 428.34 L184 428.25 L186 428.07 L188 428.05 L190 428.33 L192 428.95 L194 429.74 L196 430.47 L198 430.94 L200 431.07 L202 430.94 L204 430.77 L206 430.8 L208 431.16 L210 431.83 L212 432.63 L214 433.32 L216 433.72 L218 433.78 L220 433.63 L222 433.48 L224 433.57 L226 434 L228 434.71 L230 435.51 L232 436.16 L234 436.48 L236 436.49 L238 436.32 L240 436.21 L242 436.36 L244 436.86 L246 437.6 L248 438.39 L250 438.98 L252 439.24 L254 439.19 L256 439.01 L258 438.94 L260 439.16 L262 439.72 L264 440.5 L266 441.26 L268 441.79 L270 441.97 L272 441.88 L274 441.7 L276 441.68 L278 441.98 L280 442.6 L282 443.39 L284 444.12 L286 444.58 L288 444.7 L290 444.57 L292 444.41 L294 444.44 L296 444.81 L298 445.48 L300 446.28 L302 446.96 L304 447.36 L306 447.41 L308 447.26 L310 447.12 L312 447.21 L314 447.65 L316 448.36 L318 449.16 L320 449.8 L322 450.12 L324 450.12 L326 449.95 L328 449.84 L330 450 M-10 401.76 L-8 401.9 L-6 402.39 L-4 403.12 L-2 403.9 L0 404.49 L2 404.76 L4 404.71 L6 404.52 L8 404.44 L10 404.65 L12 405.19 L14 405.96 L16 406.72 L18 407.25 L20 407.44 L22 407.35 L24 407.17 L26 407.13 L28 407.41 L30 408.01 L32 408.8 L34 409.53 L36 409.99 L38 410.12 L40 409.99 L42 409.81 L44 409.83 L46 410.18 L48 410.84 L50 411.63 L52 412.32 L54 412.72 L56 412.78 L58 412.62 L60 412.47 L62 412.55 L64 412.97 L66 413.67 L68 414.46 L70 415.1 L72 415.43 L74 415.43 L76 415.25 L78 415.14 L80 415.28 L82 415.77 L84 416.51 L86 417.29 L88 417.87 L90 418.13 L92 418.08 L94 417.89 L96 417.81 L98 418.03 L100 418.58 L102 419.34 L104 420.1 L106 420.63 L108 420.81 L110 420.72 L112 420.53 L114 420.5 L116 420.79 L118 421.4 L120 422.18 L122 422.91 L124 423.37 L126 423.49 L128 423.35 L130 423.18 L132 423.21 L134 423.56 L136 424.22 L138 425.02 L140 425.7 L142 426.09 L144 426.15 L146 425.99 L148 425.84 L150 425.92 L152 426.35 L154 427.06 L156 427.85 L158 428.48 L160 428.8 L162 428.8 L164 428.62 L166 428.51 L168 428.66 L170 429.15 L172 429.89 L174 430.67 L176 431.25 L178 431.5 L180 431.44 L182 431.26 L184 431.18 L186 431.4 L188 431.96 L190 432.73 L192 433.48 L194 434 L196 434.18 L198 434.08 L200 433.9 L202 433.88 L204 434.17 L206 434.78 L208 435.57 L210 436.29 L212 436.74 L214 436.86 L216 436.72 L218 436.55 L220 436.58 L222 436.94 L224 437.61 L226 438.4 L228 439.08 L230 439.47 L232 439.52 L234 439.35 L236 439.21 L238 439.3 L240 439.73 L242 440.44 L244 441.23 L246 441.86 L248 442.18 L250 442.17 L252 441.99 L254 441.88 L256 442.03 L258 442.53 L260 443.28 L262 444.05 L264 444.63 L266 444.87 L268 444.81 L270 444.63 L272 444.56 L274 444.78 L276 445.34 L278 446.11 L280 446.87 L282 447.38 L284 447.55 L286 447.45 L288 447.27 L290 447.25 L292 447.54 L294 448.16 L296 448.95 L298 449.67 L300 450.12 L302 450.23 L304 450.09 L306 449.92 L308 449.95 L310 450.32 L312 450.99 L314 451.79 L316 452.46 L318 452.84 L320 452.89 L322 452.72 L324 452.58 L326 452.67 L328 453.11 L330 453.82 M-10 406.02 L-8 406.72 L-6 407.5 L-4 408.14 L-2 408.46 L0 408.45 L2 408.27 L4 408.14 L6 408.28 L8 408.77 L10 409.5 L12 410.27 L14 410.85 L16 411.1 L18 411.04 L20 410.85 L22 410.77 L24 410.98 L26 411.52 L28 412.29 L30 413.04 L32 413.55 L34 413.73 L36 413.63 L38 413.44 L40 413.4 L42 413.68 L44 414.29 L46 415.07 L48 415.79 L50 416.24 L52 416.35 L54 416.21 L56 416.03 L58 416.05 L60 416.4 L62 417.06 L64 417.85 L66 418.53 L68 418.91 L70 418.96 L72 418.79 L74 418.64 L76 418.72 L78 419.14 L80 419.84 L82 420.62 L84 421.25 L86 421.57 L88 421.56 L90 421.37 L92 421.25 L94 421.4 L96 421.89 L98 422.62 L100 423.39 L102 423.97 L104 424.21 L106 424.15 L108 423.95 L110 423.87 L112 424.09 L114 424.64 L116 425.41 L118 426.15 L120 426.67 L122 426.84 L124 426.73 L126 426.54 L128 426.51 L130 426.8 L132 427.41 L134 428.19 L136 428.9 L138 429.35 L140 429.46 L142 429.31 L144 429.14 L146 429.16 L148 429.52 L150 430.18 L152 430.97 L154 431.64 L156 432.02 L158 432.06 L160 431.89 L162 431.74 L164 431.83 L166 432.26 L168 432.96 L170 433.74 L172 434.37 L174 434.68 L176 434.66 L178 434.47 L180 434.36 L182 434.51 L184 435 L186 435.74 L188 436.51 L190 437.08 L192 437.32 L194 437.25 L196 437.06 L198 436.98 L200 437.2 L202 437.76 L204 438.53 L206 439.27 L208 439.78 L210 439.95 L212 439.83 L214 439.65 L216 439.62 L218 439.91 L220 440.53 L222 441.31 L224 442.02 L226 442.46 L228 442.56 L230 442.42 L232 442.24 L234 442.27 L236 442.64 L238 443.3 L240 444.09 L242 444.76 L244 445.13 L246 445.17 L248 445 L250 444.85 L252 444.94 L254 445.37 L256 446.08 L258 446.86 L260 447.48 L262 447.78 L264 447.76 L266 447.58 L268 447.46 L270 447.62 L272 448.12 L274 448.86 L276 449.63 L278 450.2 L280 450.42 L282 450.35 L284 450.16 L286 450.09 L288 450.32 L290 450.88 L292 451.65 L294 452.39 L296 452.89 L298 453.05 L300 452.94 L302 452.75 L304 452.73 L306 453.03 L308 453.65 L310 454.43 L312 455.14 L314 455.57 L316 455.67 L318 455.52 L320 455.35 L322 455.38 L324 455.75 L326 456.42 L328 457.21 L330 457.88 M-10 411.13 L-8 411.8 L-6 412.17 L-4 412.21 L-2 412.04 L0 411.88 L2 411.96 L4 412.37 L6 413.07 L8 413.85 L10 414.47 L12 414.77 L14 414.75 L16 414.56 L18 414.44 L20 414.58 L22 415.07 L24 415.8 L26 416.56 L28 417.13 L30 417.36 L32 417.29 L34 417.09 L36 417.01 L38 417.22 L40 417.77 L42 418.53 L44 419.27 L46 419.77 L48 419.94 L50 419.82 L52 419.63 L54 419.59 L56 419.88 L58 420.48 L60 421.26 L62 421.96 L64 422.4 L66 422.5 L68 422.35 L70 422.17 L72 422.19 L74 422.54 L76 423.2 L78 423.98 L80 424.65 L82 425.02 L84 425.05 L86 424.88 L88 424.72 L90 424.8 L92 425.23 L94 425.93 L96 426.7 L98 427.32 L100 427.62 L102 427.6 L104 427.4 L106 427.28 L108 427.43 L110 427.92 L112 428.65 L114 429.42 L116 429.98 L118 430.21 L120 430.13 L122 429.93 L124 429.85 L126 430.07 L128 430.62 L130 431.38 L132 432.12 L134 432.62 L136 432.78 L138 432.66 L140 432.47 L142 432.44 L144 432.73 L146 433.34 L148 434.11 L150 434.82 L152 435.25 L154 435.34 L156 435.19 L158 435.01 L160 435.04 L162 435.4 L164 436.06 L166 436.84 L168 437.5 L170 437.86 L172 437.89 L174 437.72 L176 437.56 L178 437.65 L180 438.08 L182 438.78 L184 439.56 L186 440.17 L188 440.46 L190 440.44 L192 440.24 L194 440.12 L196 440.28 L198 440.77 L200 441.51 L202 442.27 L204 442.83 L206 443.05 L208 442.97 L210 442.77 L212 442.7 L214 442.92 L216 443.48 L218 444.24 L220 444.98 L222 445.47 L224 445.62 L226 445.5 L228 445.31 L230 445.28 L232 445.58 L234 446.19 L236 446.97 L238 447.67 L240 448.1 L242 448.18 L244 448.03 L246 447.85 L248 447.88 L250 448.25 L252 448.91 L254 449.69 L256 450.35 L258 450.71 L260 450.73 L262 450.55 L264 450.4 L266 450.5 L268 450.93 L270 451.64 L272 452.41 L274 453.02 L276 453.31 L278 453.28 L280 453.08 L282 452.97 L284 453.13 L286 453.63 L288 454.37 L290 455.13 L292 455.68 L294 455.89 L296 455.81 L298 455.61 L300 455.54 L302 455.77 L304 456.33 L306 457.1 L308 457.83 L310 458.32 L312 458.46 L314 458.34 L316 458.15 L318 458.13 L320 458.43 L322 459.05 L324 459.83 L326 460.52 L328 460.95 L330 461.02 M-10 415.9 L-8 415.99 L-6 415.83 L-4 415.65 L-2 415.66 L0 416.01 L2 416.66 L4 417.44 L6 418.1 L8 418.46 L10 418.49 L12 418.3 L14 418.14 L16 418.22 L18 418.64 L20 419.33 L22 420.11 L24 420.72 L26 421.01 L28 420.97 L30 420.78 L32 420.65 L34 420.79 L36 421.28 L38 422.01 L40 422.77 L42 423.32 L44 423.54 L46 423.46 L48 423.25 L50 423.17 L52 423.38 L54 423.93 L56 424.69 L58 425.42 L60 425.91 L62 426.06 L64 425.93 L66 425.73 L68 425.7 L70 425.98 L72 426.59 L74 427.36 L76 428.06 L78 428.48 L80 428.57 L82 428.41 L84 428.22 L86 428.24 L88 428.6 L90 429.26 L92 430.03 L94 430.69 L96 431.04 L98 431.06 L100 430.88 L102 430.72 L104 430.8 L106 431.23 L108 431.93 L110 432.7 L112 433.3 L114 433.59 L116 433.55 L118 433.35 L120 433.23 L122 433.38 L124 433.87 L126 434.6 L128 435.36 L130 435.9 L132 436.12 L134 436.03 L136 435.83 L138 435.75 L140 435.97 L142 436.52 L144 437.28 L146 438.01 L148 438.49 L150 438.64 L152 438.51 L154 438.31 L156 438.28 L158 438.57 L160 439.18 L162 439.95 L164 440.65 L166 441.07 L168 441.14 L170 440.98 L172 440.8 L174 440.83 L176 441.19 L178 441.85 L180 442.62 L182 443.27 L184 443.62 L186 443.64 L188 443.45 L190 443.3 L192 443.39 L194 443.82 L196 444.52 L198 445.29 L200 445.89 L202 446.17 L204 446.13 L206 445.93 L208 445.81 L210 445.96 L212 446.46 L214 447.2 L216 447.95 L218 448.49 L220 448.7 L222 448.61 L224 448.4 L226 448.33 L228 448.55 L230 449.11 L232 449.87 L234 450.6 L236 451.08 L238 451.22 L240 451.08 L242 450.89 L244 450.86 L246 451.16 L248 451.77 L250 452.54 L252 453.24 L254 453.65 L256 453.72 L258 453.56 L260 453.38 L262 453.41 L264 453.78 L266 454.44 L268 455.22 L270 455.86 L272 456.21 L274 456.22 L276 456.03 L278 455.88 L280 455.97 L282 456.41 L284 457.11 L286 457.88 L288 458.48 L290 458.75 L292 458.7 L294 458.5 L296 458.39 L298 458.55 L300 459.05 L302 459.79 L304 460.54 L306 461.08 L308 461.28 L310 461.18 L312 460.98 L314 460.91 L316 461.14 L318 461.7 L320 462.46 L322 463.19 L324 463.66 L326 463.79 L328 463.66 L330 463.46 M-10 419.65 L-8 419.44 L-6 419.4 L-4 419.68 L-2 420.29 L0 421.05 L2 421.74 L4 422.16 L6 422.23 L8 422.07 L10 421.88 L12 421.9 L14 422.25 L16 422.9 L18 423.67 L20 424.32 L22 424.66 L24 424.68 L26 424.49 L28 424.32 L30 424.4 L32 424.82 L34 425.52 L36 426.28 L38 426.88 L40 427.15 L42 427.11 L44 426.91 L46 426.78 L48 426.92 L50 427.41 L52 428.14 L54 428.89 L56 429.43 L58 429.63 L60 429.54 L62 429.33 L64 429.24 L66 429.46 L68 430.01 L70 430.76 L72 431.48 L74 431.96 L76 432.09 L78 431.96 L80 431.76 L82 431.72 L84 432.01 L86 432.61 L88 433.38 L90 434.07 L92 434.48 L94 434.55 L96 434.38 L98 434.19 L100 434.21 L102 434.57 L104 435.23 L106 436 L108 436.64 L110 436.98 L112 436.99 L114 436.8 L116 436.64 L118 436.72 L120 437.15 L122 437.85 L124 438.61 L126 439.2 L128 439.47 L130 439.42 L132 439.22 L134 439.09 L136 439.24 L138 439.74 L140 440.47 L142 441.21 L144 441.75 L146 441.95 L148 441.85 L150 441.64 L152 441.56 L154 441.78 L156 442.33 L158 443.09 L160 443.81 L162 444.28 L164 444.41 L166 444.27 L168 444.07 L170 444.04 L172 444.33 L174 444.94 L176 445.71 L178 446.39 L180 446.8 L182 446.86 L184 446.69 L186 446.5 L188 446.53 L190 446.9 L192 447.56 L194 448.32 L196 448.96 L198 449.3 L200 449.3 L202 449.11 L204 448.95 L206 449.04 L208 449.47 L210 450.17 L212 450.94 L214 451.52 L216 451.79 L218 451.73 L220 451.53 L222 451.41 L224 451.56 L226 452.06 L228 452.79 L230 453.54 L232 454.07 L234 454.26 L236 454.16 L238 453.95 L240 453.87 L242 454.1 L244 454.66 L246 455.42 L248 456.13 L250 456.6 L252 456.72 L254 456.58 L256 456.38 L258 456.35 L260 456.65 L262 457.27 L264 458.04 L266 458.72 L268 459.12 L270 459.17 L272 459 L274 458.82 L276 458.85 L278 459.22 L280 459.88 L282 460.65 L284 461.29 L286 461.62 L288 461.61 L290 461.42 L292 461.26 L294 461.36 L296 461.8 L298 462.5 L300 463.26 L302 463.85 L304 464.1 L306 464.05 L308 463.84 L310 463.72 L312 463.88 L314 464.39 L316 465.12 L318 465.87 L320 466.39 L322 466.58 L324 466.47 L326 466.26 L328 466.19 L330 466.42 M-10 423.18 L-8 423.39 L-6 423.94 L-4 424.68 L-2 425.4 L0 425.87 L2 426 L4 425.85 L6 425.65 L8 425.61 L10 425.89 L12 426.49 L14 427.25 L16 427.93 L18 428.33 L20 428.39 L22 428.22 L24 428.03 L26 428.05 L28 428.4 L30 429.05 L32 429.81 L34 430.45 L36 430.78 L38 430.78 L40 430.58 L42 430.42 L44 430.5 L46 430.92 L48 431.61 L50 432.37 L52 432.96 L54 433.22 L56 433.16 L58 432.95 L60 432.82 L62 432.97 L64 433.46 L66 434.18 L68 434.92 L70 435.45 L72 435.64 L74 435.53 L76 435.32 L78 435.23 L80 435.45 L82 436 L84 436.75 L86 437.46 L88 437.93 L90 438.05 L92 437.9 L94 437.69 L96 437.66 L98 437.95 L100 438.55 L102 439.31 L104 439.99 L106 440.39 L108 440.44 L110 440.27 L112 440.08 L114 440.1 L116 440.46 L118 441.11 L120 441.88 L122 442.51 L124 442.84 L126 442.83 L128 442.63 L130 442.47 L132 442.55 L134 442.98 L136 443.68 L138 444.43 L140 445.01 L142 445.27 L144 445.21 L146 445 L148 444.87 L150 445.02 L152 445.52 L154 446.25 L156 446.98 L158 447.51 L160 447.69 L162 447.58 L164 447.37 L166 447.28 L168 447.51 L170 448.06 L172 448.81 L174 449.52 L176 449.98 L178 450.1 L180 449.95 L182 449.74 L184 449.71 L186 450.01 L188 450.62 L190 451.38 L192 452.05 L194 452.44 L196 452.49 L198 452.31 L200 452.13 L202 452.15 L204 452.52 L206 453.18 L208 453.94 L210 454.57 L212 454.89 L214 454.88 L216 454.68 L218 454.52 L220 454.61 L222 455.04 L224 455.74 L226 456.5 L228 457.07 L230 457.32 L232 457.26 L234 457.04 L236 456.92 L238 457.08 L240 457.58 L242 458.31 L244 459.05 L246 459.56 L248 459.74 L250 459.63 L252 459.41 L254 459.34 L256 459.57 L258 460.13 L260 460.88 L262 461.59 L264 462.04 L266 462.15 L268 462 L270 461.79 L272 461.77 L274 462.07 L276 462.68 L278 463.44 L280 464.11 L282 464.5 L284 464.54 L286 464.36 L288 464.17 L290 464.21 L292 464.58 L294 465.24 L296 466.01 L298 466.63 L300 466.94 L302 466.93 L304 466.73 L306 466.57 L308 466.67 L310 467.11 L312 467.81 L314 468.56 L316 469.13 L318 469.38 L320 469.31 L322 469.09 L324 468.97 L326 469.14 L328 469.64 L330 470.38 M-10 427.62 L-8 428.34 L-6 429.07 L-4 429.59 L-2 429.78 L0 429.66 L2 429.44 L4 429.35 L6 429.57 L8 430.11 L10 430.85 L12 431.56 L14 432.02 L16 432.13 L18 431.98 L20 431.76 L22 431.72 L24 432.01 L26 432.61 L28 433.37 L30 434.04 L32 434.42 L34 434.47 L36 434.29 L38 434.09 L40 434.11 L42 434.47 L44 435.12 L46 435.87 L48 436.5 L50 436.82 L52 436.8 L54 436.6 L56 436.43 L58 436.51 L60 436.94 L62 437.63 L64 438.38 L66 438.95 L68 439.2 L70 439.13 L72 438.91 L74 438.78 L76 438.93 L78 439.42 L80 440.14 L82 440.87 L84 441.39 L86 441.56 L88 441.45 L90 441.23 L92 441.14 L94 441.36 L96 441.91 L98 442.65 L100 443.36 L102 443.81 L104 443.92 L106 443.76 L108 443.55 L110 443.51 L112 443.8 L114 444.41 L116 445.17 L118 445.83 L120 446.21 L122 446.26 L124 446.07 L126 445.88 L128 445.9 L130 446.26 L132 446.92 L134 447.67 L136 448.29 L138 448.61 L140 448.59 L142 448.38 L144 448.22 L146 448.3 L148 448.73 L150 449.43 L152 450.18 L154 450.74 L156 450.99 L158 450.91 L160 450.69 L162 450.57 L164 450.72 L166 451.22 L168 451.94 L170 452.67 L172 453.18 L174 453.35 L176 453.23 L178 453.01 L180 452.93 L182 453.15 L184 453.71 L186 454.45 L188 455.16 L190 455.6 L192 455.7 L194 455.54 L196 455.33 L198 455.3 L200 455.6 L202 456.21 L204 456.97 L206 457.63 L208 458.01 L210 458.04 L212 457.85 L214 457.66 L216 457.69 L218 458.06 L220 458.72 L222 459.47 L224 460.09 L226 460.4 L228 460.37 L230 460.16 L232 460 L234 460.1 L236 460.53 L238 461.23 L240 461.98 L242 462.54 L244 462.77 L246 462.7 L248 462.48 L250 462.35 L252 462.51 L254 463.02 L256 463.74 L258 464.47 L260 464.97 L262 465.14 L264 465.01 L266 464.79 L268 464.72 L270 464.95 L272 465.51 L274 466.26 L276 466.95 L278 467.39 L280 467.49 L282 467.33 L284 467.12 L286 467.09 L288 467.4 L290 468.01 L292 468.77 L294 469.43 L296 469.8 L298 469.83 L300 469.64 L302 469.45 L304 469.48 L306 469.86 L308 470.52 L310 471.27 L312 471.89 L314 472.19 L316 472.16 L318 471.95 L320 471.79 L322 471.89 L324 472.33 L326 473.03 L328 473.78 L330 474.33 M-10 432.76 L-8 433.33 L-6 433.57 L-4 433.49 L-2 433.27 L0 433.13 L2 433.28 L4 433.76 L6 434.48 L8 435.2 L10 435.71 L12 435.88 L14 435.76 L16 435.53 L18 435.44 L20 435.65 L22 436.2 L24 436.94 L26 437.64 L28 438.08 L30 438.18 L32 438.02 L34 437.8 L36 437.76 L38 438.05 L40 438.65 L42 439.4 L44 440.06 L46 440.43 L48 440.47 L50 440.27 L52 440.07 L54 440.09 L56 440.45 L58 441.1 L60 441.85 L62 442.46 L64 442.77 L66 442.74 L68 442.53 L70 442.36 L72 442.44 L74 442.87 L76 443.56 L78 444.3 L80 444.86 L82 445.09 L84 445.01 L86 444.79 L88 444.65 L90 444.81 L92 445.3 L94 446.02 L96 446.74 L98 447.24 L100 447.4 L102 447.28 L104 447.05 L106 446.96 L108 447.18 L110 447.74 L112 448.48 L114 449.17 L116 449.61 L118 449.7 L120 449.53 L122 449.32 L124 449.28 L126 449.58 L128 450.18 L130 450.93 L132 451.59 L134 451.96 L136 451.99 L138 451.79 L140 451.59 L142 451.62 L144 451.98 L146 452.64 L148 453.39 L150 454 L152 454.29 L154 454.26 L156 454.05 L158 453.88 L160 453.97 L162 454.4 L164 455.09 L166 455.83 L168 456.39 L170 456.62 L172 456.53 L174 456.31 L176 456.18 L178 456.34 L180 456.83 L182 457.55 L184 458.27 L186 458.77 L188 458.93 L190 458.8 L192 458.57 L194 458.49 L196 458.72 L198 459.27 L200 460.01 L202 460.7 L204 461.13 L206 461.22 L208 461.05 L210 460.84 L212 460.81 L214 461.11 L216 461.72 L218 462.47 L220 463.12 L222 463.48 L224 463.51 L226 463.31 L228 463.12 L230 463.15 L232 463.52 L234 464.17 L236 464.92 L238 465.53 L240 465.82 L242 465.78 L244 465.57 L246 465.4 L248 465.5 L250 465.94 L252 466.63 L254 467.37 L256 467.92 L258 468.14 L260 468.05 L262 467.83 L264 467.7 L266 467.86 L268 468.37 L270 469.09 L272 469.81 L274 470.3 L276 470.45 L278 470.31 L280 470.09 L282 470.01 L284 470.25 L286 470.81 L288 471.55 L290 472.24 L292 472.66 L294 472.74 L296 472.57 L298 472.36 L300 472.33 L302 472.64 L304 473.26 L306 474.01 L308 474.65 L310 475.01 L312 475.03 L314 474.83 L316 474.64 L318 474.67 L320 475.05 L322 475.71 L324 476.46 L326 477.06 L328 477.34 L330 477.3 M-10 437.37 L-8 437.34 L-6 437.12 L-4 436.94 L-2 437.02 L0 437.45 L2 438.13 L4 438.87 L6 439.42 L8 439.64 L10 439.56 L12 439.32 L14 439.19 L16 439.33 L18 439.82 L20 440.54 L22 441.25 L24 441.74 L26 441.9 L28 441.76 L30 441.53 L32 441.44 L34 441.66 L36 442.21 L38 442.94 L40 443.63 L42 444.06 L44 444.14 L46 443.97 L48 443.75 L50 443.71 L52 444 L54 444.6 L56 445.34 L58 445.99 L60 446.35 L62 446.37 L64 446.17 L66 445.97 L68 445.99 L70 446.35 L72 447 L74 447.74 L76 448.35 L78 448.64 L80 448.6 L82 448.37 L84 448.2 L86 448.29 L88 448.72 L90 449.4 L92 450.14 L94 450.68 L96 450.9 L98 450.81 L100 450.58 L102 450.45 L104 450.6 L106 451.09 L108 451.81 L110 452.52 L112 453.01 L114 453.16 L116 453.02 L118 452.79 L120 452.7 L122 452.93 L124 453.48 L126 454.21 L128 454.9 L130 455.32 L132 455.4 L134 455.22 L136 455 L138 454.97 L140 455.27 L142 455.87 L144 456.62 L146 457.26 L148 457.62 L150 457.63 L152 457.43 L154 457.23 L156 457.25 L158 457.62 L160 458.27 L162 459.02 L164 459.61 L166 459.9 L168 459.85 L170 459.63 L172 459.46 L174 459.55 L176 459.99 L178 460.68 L180 461.41 L182 461.95 L184 462.16 L186 462.07 L188 461.84 L190 461.7 L192 461.87 L194 462.36 L196 463.08 L198 463.79 L200 464.27 L202 464.42 L204 464.28 L206 464.04 L208 463.96 L210 464.19 L212 464.75 L214 465.49 L216 466.17 L218 466.58 L220 466.66 L222 466.48 L224 466.26 L226 466.23 L228 466.53 L230 467.14 L232 467.89 L234 468.53 L236 468.88 L238 468.89 L240 468.68 L242 468.48 L244 468.52 L246 468.89 L248 469.54 L250 470.29 L252 470.88 L254 471.16 L256 471.11 L258 470.89 L260 470.72 L262 470.82 L264 471.26 L266 471.95 L268 472.68 L270 473.22 L272 473.42 L274 473.32 L276 473.09 L278 472.96 L280 473.13 L282 473.63 L284 474.35 L286 475.06 L288 475.54 L290 475.68 L292 475.53 L294 475.3 L296 475.22 L298 475.46 L300 476.02 L302 476.76 L304 477.44 L306 477.85 L308 477.92 L310 477.74 L312 477.52 L314 477.49 L316 477.8 L318 478.42 L320 479.16 L322 479.8 L324 480.14 L326 480.15 L328 479.94 L330 479.74 M-10 441 L-8 440.79 L-6 440.81 L-4 441.16 L-2 441.81 L0 442.54 L2 443.14 L4 443.42 L6 443.37 L8 443.15 L10 442.97 L12 443.05 L14 443.47 L16 444.16 L18 444.88 L20 445.42 L22 445.63 L24 445.54 L26 445.3 L28 445.16 L30 445.31 L32 445.8 L34 446.51 L36 447.21 L38 447.69 L40 447.83 L42 447.69 L44 447.45 L46 447.36 L48 447.58 L50 448.13 L52 448.86 L54 449.53 L56 449.95 L58 450.02 L60 449.84 L62 449.61 L64 449.58 L66 449.87 L68 450.47 L70 451.21 L72 451.84 L74 452.19 L76 452.2 L78 451.99 L80 451.78 L82 451.81 L84 452.17 L86 452.81 L88 453.55 L90 454.14 L92 454.42 L94 454.37 L96 454.14 L98 453.96 L100 454.05 L102 454.48 L104 455.16 L106 455.89 L108 456.43 L110 456.63 L112 456.53 L114 456.29 L116 456.15 L118 456.31 L120 456.8 L122 457.52 L124 458.22 L126 458.7 L128 458.83 L130 458.68 L132 458.44 L134 458.36 L136 458.58 L138 459.14 L140 459.87 L142 460.54 L144 460.95 L146 461.02 L148 460.83 L150 460.61 L152 460.57 L154 460.87 L156 461.48 L158 462.22 L160 462.85 L162 463.19 L164 463.19 L166 462.98 L168 462.78 L170 462.8 L172 463.17 L174 463.82 L176 464.56 L178 465.15 L180 465.42 L182 465.36 L184 465.13 L186 464.96 L188 465.05 L190 465.49 L192 466.17 L194 466.9 L196 467.43 L198 467.63 L200 467.52 L202 467.28 L204 467.15 L206 467.31 L208 467.81 L210 468.52 L212 469.23 L214 469.7 L216 469.82 L218 469.67 L220 469.44 L222 469.35 L224 469.59 L226 470.14 L228 470.88 L230 471.55 L232 471.95 L234 472.01 L236 471.82 L238 471.6 L240 471.57 L242 471.88 L244 472.49 L246 473.22 L248 473.85 L250 474.19 L252 474.19 L254 473.97 L256 473.77 L258 473.8 L260 474.18 L262 474.83 L264 475.57 L266 476.15 L268 476.41 L270 476.35 L272 476.12 L274 475.95 L276 476.05 L278 476.49 L280 477.18 L282 477.9 L284 478.43 L286 478.62 L288 478.51 L290 478.27 L292 478.14 L294 478.31 L296 478.82 L298 479.53 L300 480.23 L302 480.7 L304 480.82 L306 480.66 L308 480.43 L310 480.35 L312 480.59 L314 481.15 L316 481.88 L318 482.55 L320 482.95 L322 483 L324 482.81 L326 482.59 L328 482.57 L330 482.88 M-10 444.62 L-8 444.91 L-6 445.51 L-4 446.24 L-2 446.87 L0 447.21 L2 447.21 L4 446.99 L6 446.78 L8 446.8 L10 447.16 L12 447.8 L14 448.53 L16 449.12 L18 449.38 L20 449.32 L22 449.09 L24 448.91 L26 448.99 L28 449.42 L30 450.1 L32 450.82 L34 451.34 L36 451.54 L38 451.43 L40 451.19 L42 451.05 L44 451.2 L46 451.69 L48 452.39 L50 453.09 L52 453.56 L54 453.69 L56 453.53 L58 453.29 L60 453.2 L62 453.42 L64 453.97 L66 454.69 L68 455.36 L70 455.76 L72 455.82 L74 455.63 L76 455.4 L78 455.36 L80 455.65 L82 456.25 L84 456.99 L86 457.61 L88 457.95 L90 457.94 L92 457.72 L94 457.51 L96 457.54 L98 457.9 L100 458.55 L102 459.28 L104 459.85 L106 460.12 L108 460.05 L110 459.82 L112 459.64 L114 459.73 L116 460.16 L118 460.84 L120 461.56 L122 462.08 L124 462.27 L126 462.16 L128 461.91 L130 461.78 L132 461.94 L134 462.43 L136 463.14 L138 463.84 L140 464.3 L142 464.42 L144 464.26 L146 464.02 L148 463.93 L150 464.16 L152 464.71 L154 465.44 L156 466.1 L158 466.5 L160 466.55 L162 466.35 L164 466.12 L166 466.09 L168 466.39 L170 467 L172 467.73 L174 468.35 L176 468.68 L178 468.67 L180 468.45 L182 468.24 L184 468.27 L186 468.64 L188 469.29 L190 470.02 L192 470.59 L194 470.85 L196 470.78 L198 470.54 L200 470.37 L202 470.46 L204 470.9 L206 471.59 L208 472.3 L210 472.82 L212 473.01 L214 472.89 L216 472.64 L218 472.51 L220 472.67 L222 473.17 L224 473.88 L226 474.58 L228 475.03 L230 475.15 L232 474.99 L234 474.74 L236 474.66 L238 474.9 L240 475.45 L242 476.18 L244 476.84 L246 477.23 L248 477.28 L250 477.08 L252 476.85 L254 476.83 L256 477.13 L258 477.74 L260 478.48 L262 479.09 L264 479.41 L266 479.4 L268 479.18 L270 478.97 L272 479.01 L274 479.38 L276 480.04 L278 480.76 L280 481.33 L282 481.58 L284 481.51 L286 481.27 L288 481.1 L290 481.2 L292 481.64 L294 482.33 L296 483.05 L298 483.56 L300 483.74 L302 483.61 L304 483.37 L306 483.24 L308 483.41 L310 483.92 L312 484.63 L314 485.32 L316 485.77 L318 485.88 L320 485.71 L322 485.47 L324 485.39 L326 485.64 L328 486.2 L330 486.93 M-10 449.24 L-8 449.96 L-6 450.62 L-4 451.01 L-2 451.06 L0 450.87 L2 450.63 L4 450.59 L6 450.88 L8 451.47 L10 452.2 L12 452.82 L14 453.14 L16 453.13 L18 452.91 L20 452.69 L22 452.71 L24 453.07 L26 453.71 L28 454.44 L30 455.01 L32 455.26 L34 455.19 L36 454.95 L38 454.76 L40 454.85 L42 455.28 L44 455.95 L46 456.67 L48 457.18 L50 457.36 L52 457.24 L54 456.99 L56 456.85 L58 457 L60 457.5 L62 458.2 L64 458.89 L66 459.34 L68 459.45 L70 459.29 L72 459.04 L74 458.95 L76 459.17 L78 459.72 L80 460.44 L82 461.1 L84 461.49 L86 461.53 L88 461.33 L90 461.09 L92 461.06 L94 461.35 L96 461.95 L98 462.68 L100 463.3 L102 463.62 L104 463.6 L106 463.37 L108 463.16 L110 463.18 L112 463.55 L114 464.19 L116 464.92 L118 465.48 L120 465.73 L122 465.66 L124 465.41 L126 465.23 L128 465.32 L130 465.76 L132 466.44 L134 467.15 L136 467.66 L138 467.83 L140 467.71 L142 467.45 L144 467.32 L146 467.48 L148 467.97 L150 468.68 L152 469.37 L154 469.81 L156 469.92 L158 469.75 L160 469.5 L162 469.42 L164 469.65 L166 470.2 L168 470.92 L170 471.58 L172 471.96 L174 472 L176 471.79 L178 471.56 L180 471.53 L182 471.83 L184 472.43 L186 473.16 L188 473.77 L190 474.09 L192 474.06 L194 473.83 L196 473.62 L198 473.65 L200 474.03 L202 474.67 L204 475.4 L206 475.96 L208 476.2 L210 476.12 L212 475.87 L214 475.7 L216 475.8 L218 476.23 L220 476.92 L222 477.62 L224 478.13 L226 478.3 L228 478.17 L230 477.92 L232 477.78 L234 477.95 L236 478.45 L238 479.16 L240 479.84 L242 480.29 L244 480.39 L246 480.21 L248 479.97 L250 479.88 L252 480.12 L254 480.68 L256 481.4 L258 482.05 L260 482.43 L262 482.46 L264 482.25 L266 482.02 L268 482 L270 482.31 L272 482.92 L274 483.64 L276 484.25 L278 484.56 L280 484.53 L282 484.3 L284 484.09 L286 484.13 L288 484.5 L290 485.15 L292 485.88 L294 486.43 L296 486.67 L298 486.58 L300 486.34 L302 486.16 L304 486.27 L306 486.71 L308 487.4 L310 488.1 L312 488.6 L314 488.77 L316 488.63 L318 488.38 L320 488.25 L322 488.43 L324 488.93 L326 489.64 L328 490.32 L330 490.76 M-10 454.38 L-8 454.83 L-6 454.93 L-4 454.76 L-2 454.51 L0 454.41 L2 454.63 L4 455.18 L6 455.89 L8 456.54 L10 456.92 L12 456.96 L14 456.75 L16 456.51 L18 456.47 L20 456.76 L22 457.36 L24 458.08 L26 458.68 L28 458.99 L30 458.97 L32 458.73 L34 458.52 L36 458.54 L38 458.9 L40 459.54 L42 460.26 L44 460.82 L46 461.06 L48 460.97 L50 460.72 L52 460.54 L54 460.63 L56 461.05 L58 461.73 L60 462.43 L62 462.93 L64 463.1 L66 462.97 L68 462.71 L70 462.57 L72 462.73 L74 463.22 L76 463.92 L78 464.6 L80 465.04 L82 465.14 L84 464.96 L86 464.71 L88 464.61 L90 464.84 L92 465.39 L94 466.11 L96 466.75 L98 467.13 L100 467.16 L102 466.95 L104 466.71 L106 466.67 L108 466.97 L110 467.57 L112 468.29 L114 468.9 L116 469.2 L118 469.17 L120 468.93 L122 468.72 L124 468.75 L126 469.11 L128 469.76 L130 470.47 L132 471.03 L134 471.26 L136 471.17 L138 470.92 L140 470.74 L142 470.83 L144 471.27 L146 471.95 L148 472.65 L150 473.14 L152 473.31 L154 473.17 L156 472.91 L158 472.77 L160 472.94 L162 473.43 L164 474.14 L166 474.81 L168 475.25 L170 475.34 L172 475.16 L174 474.91 L176 474.82 L178 475.05 L180 475.61 L182 476.32 L184 476.97 L186 477.33 L188 477.36 L190 477.15 L192 476.91 L194 476.88 L196 477.18 L198 477.79 L200 478.51 L202 479.11 L204 479.41 L206 479.37 L208 479.13 L210 478.92 L212 478.95 L214 479.33 L216 479.97 L218 480.69 L220 481.24 L222 481.47 L224 481.37 L226 481.12 L228 480.94 L230 481.04 L232 481.48 L234 482.16 L236 482.86 L238 483.35 L240 483.51 L242 483.37 L244 483.11 L246 482.98 L248 483.15 L250 483.65 L252 484.35 L254 485.03 L256 485.45 L258 485.54 L260 485.36 L262 485.11 L264 485.02 L266 485.26 L268 485.82 L270 486.54 L272 487.18 L274 487.54 L276 487.56 L278 487.35 L280 487.11 L282 487.09 L284 487.4 L286 488 L288 488.73 L290 489.32 L292 489.61 L294 489.57 L296 489.33 L298 489.12 L300 489.16 L302 489.54 L304 490.19 L306 490.91 L308 491.45 L310 491.67 L312 491.57 L314 491.32 L316 491.15 L318 491.25 L320 491.7 L322 492.38 L324 493.08 L326 493.56 L328 493.71 L330 493.57 M-10 458.82 L-8 458.68 L-6 458.41 L-4 458.27 L-2 458.42 L0 458.91 L2 459.6 L4 460.27 L6 460.71 L8 460.8 L10 460.61 L12 460.35 L14 460.26 L16 460.48 L18 461.03 L20 461.74 L22 462.37 L24 462.74 L26 462.76 L28 462.55 L30 462.3 L32 462.26 L34 462.56 L36 463.15 L38 463.87 L40 464.46 L42 464.76 L44 464.72 L46 464.48 L48 464.26 L50 464.28 L52 464.65 L54 465.28 L56 465.99 L58 466.54 L60 466.77 L62 466.67 L64 466.41 L66 466.23 L68 466.32 L70 466.75 L72 467.42 L74 468.11 L76 468.6 L78 468.76 L80 468.61 L82 468.35 L84 468.21 L86 468.36 L88 468.86 L90 469.55 L92 470.22 L94 470.65 L96 470.74 L98 470.55 L100 470.29 L102 470.2 L104 470.43 L106 470.98 L108 471.69 L110 472.32 L112 472.68 L114 472.7 L116 472.48 L118 472.24 L120 472.2 L122 472.51 L124 473.1 L126 473.82 L128 474.41 L130 474.7 L132 474.66 L134 474.41 L136 474.2 L138 474.23 L140 474.6 L142 475.24 L144 475.95 L146 476.49 L148 476.71 L150 476.61 L152 476.35 L154 476.17 L156 476.26 L158 476.7 L160 477.37 L162 478.06 L164 478.55 L166 478.7 L168 478.55 L170 478.28 L172 478.15 L174 478.31 L176 478.81 L178 479.51 L180 480.17 L182 480.6 L184 480.67 L186 480.48 L188 480.23 L190 480.14 L192 480.38 L194 480.93 L196 481.64 L198 482.27 L200 482.63 L202 482.64 L204 482.42 L206 482.18 L208 482.15 L210 482.45 L212 483.06 L214 483.77 L216 484.36 L218 484.64 L220 484.6 L222 484.35 L224 484.13 L226 484.17 L228 484.54 L230 485.19 L232 485.9 L234 486.43 L236 486.65 L238 486.54 L240 486.28 L242 486.1 L244 486.21 L246 486.65 L248 487.32 L250 488.02 L252 488.49 L254 488.64 L256 488.48 L258 488.22 L260 488.09 L262 488.26 L264 488.76 L266 489.46 L268 490.12 L270 490.54 L272 490.61 L274 490.42 L276 490.16 L278 490.08 L280 490.32 L282 490.88 L284 491.59 L286 492.22 L288 492.57 L290 492.58 L292 492.35 L294 492.11 L296 492.09 L298 492.4 L300 493.01 L302 493.72 L304 494.31 L306 494.59 L308 494.53 L310 494.28 L312 494.07 L314 494.11 L316 494.49 L318 495.14 L320 495.85 L322 496.38 L324 496.59 L326 496.48 L328 496.22 L330 496.04 M-10 462.35 L-8 462.16 L-6 462.24 L-4 462.67 L-2 463.34 L0 464.02 L2 464.51 L4 464.65 L6 464.5 L8 464.23 L10 464.08 L12 464.24 L14 464.73 L16 465.42 L18 466.08 L20 466.5 L22 466.58 L24 466.38 L26 466.12 L28 466.02 L30 466.25 L32 466.79 L34 467.5 L36 468.13 L38 468.48 L40 468.49 L42 468.26 L44 468.01 L46 467.97 L48 468.27 L50 468.87 L52 469.57 L54 470.16 L56 470.44 L58 470.39 L60 470.14 L62 469.92 L64 469.94 L66 470.31 L68 470.94 L70 471.65 L72 472.18 L74 472.39 L76 472.28 L78 472.02 L80 471.83 L82 471.92 L84 472.35 L86 473.02 L88 473.71 L90 474.19 L92 474.33 L94 474.17 L96 473.9 L98 473.76 L100 473.92 L102 474.41 L104 475.11 L106 475.77 L108 476.18 L110 476.25 L112 476.05 L114 475.79 L116 475.7 L118 475.93 L120 476.48 L122 477.19 L124 477.81 L126 478.16 L128 478.16 L130 477.93 L132 477.69 L134 477.65 L136 477.96 L138 478.55 L140 479.26 L142 479.84 L144 480.12 L146 480.06 L148 479.81 L150 479.59 L152 479.62 L154 479.99 L156 480.63 L158 481.33 L160 481.86 L162 482.07 L164 481.96 L166 481.69 L168 481.51 L170 481.6 L172 482.04 L174 482.71 L176 483.4 L178 483.87 L180 484 L182 483.84 L184 483.57 L186 483.43 L188 483.6 L190 484.1 L192 484.79 L194 485.45 L196 485.86 L198 485.92 L200 485.72 L202 485.46 L204 485.38 L206 485.61 L208 486.17 L210 486.87 L212 487.5 L214 487.84 L216 487.84 L218 487.6 L220 487.36 L222 487.33 L224 487.64 L226 488.24 L228 488.95 L230 489.53 L232 489.8 L234 489.74 L236 489.48 L238 489.26 L240 489.3 L242 489.68 L244 490.32 L246 491.02 L248 491.55 L250 491.74 L252 491.63 L254 491.36 L256 491.18 L258 491.28 L260 491.73 L262 492.4 L264 493.08 L266 493.55 L268 493.68 L270 493.51 L272 493.24 L274 493.11 L276 493.28 L278 493.79 L280 494.48 L282 495.14 L284 495.54 L286 495.6 L288 495.39 L290 495.13 L292 495.05 L294 495.3 L296 495.86 L298 496.56 L300 497.18 L302 497.51 L304 497.51 L306 497.27 L308 497.03 L310 497.01 L312 497.32 L314 497.93 L316 498.64 L318 499.21 L320 499.48 L322 499.41 L324 499.15 L326 498.94 L328 498.98 L330 499.36" fill="none" stroke="#fff" stroke-width="0.6" opacity="0.09"/><path d="M620 451.5 L621.8 451.82 L623.6 452.1 L625.4 452.21 L627.2 452.04 L629 451.57 L630.8 450.87 L632.6 450.1 L634.4 449.42 L636.2 448.95 L638 448.75 L639.8 448.77 L641.6 448.88 L643.4 448.9 L645.2 448.71 L647 448.24 L648.8 447.5 L650.6 446.62 L652.4 445.76 L654.2 445.07 L656 444.64 L657.8 444.47 L659.6 444.45 L661.4 444.45 L663.2 444.28 L665 443.86 L666.8 443.16 L668.6 442.25 L670.4 441.28 L672.2 440.42 L674 439.78 L675.8 439.43 L677.6 439.29 L679.4 439.23 L681.2 439.09 L683 438.74 L684.8 438.1 L686.6 437.21 L688.4 436.19 L690.2 435.2 L692 434.39 L693.8 433.85 L695.6 433.56 L697.4 433.43 L699.2 433.3 L701 433.01 L702.8 432.45 L704.6 431.62 L706.4 430.59 L708.2 429.51 L710 428.55 L711.8 427.83 L713.6 427.39 L715.4 427.15 L717.2 427 L719 426.75 L720.8 426.28 L722.6 425.53 L724.4 424.54 L726.2 423.42 L728 422.34 L729.8 421.46 L731.6 420.84 L733.4 420.48 L735.2 420.27 L737 420.04 L738.8 419.65 L740.6 419 L742.4 418.07 L744.2 416.95 L746 415.79 L747.8 414.77 L749.6 413.98 L751.4 413.47 L753.2 413.17 L755 412.93 L756.8 412.6 L758.6 412.04 L760.4 411.2 L762.2 410.12 L764 408.93 L765.8 407.79 L767.6 406.84 L769.4 406.17 L771.2 405.75 L773 405.47 L774.8 405.17 L776.6 404.7 L778.4 403.96 L780.2 402.95 L782 401.76 L783.8 400.54 L785.6 399.46 L787.4 398.62 L789.2 398.06 L791 397.7 L792.8 397.4 L794.6 397 L796.4 396.36 L798.2 395.44 L800 394.29 M620 456.33 L621.8 456.57 L623.6 456.5 L625.4 456.13 L627.2 455.5 L629 454.76 L630.8 454.08 L632.6 453.6 L634.4 453.38 L636.2 453.4 L638 453.52 L639.8 453.59 L641.6 453.46 L643.4 453.05 L645.2 452.37 L647 451.52 L648.8 450.66 L650.6 449.95 L652.4 449.49 L654.2 449.3 L656 449.28 L657.8 449.3 L659.6 449.18 L661.4 448.82 L663.2 448.17 L665 447.3 L666.8 446.34 L668.6 445.46 L670.4 444.8 L672.2 444.41 L674 444.25 L675.8 444.2 L677.6 444.1 L679.4 443.8 L681.2 443.22 L683 442.37 L684.8 441.37 L686.6 440.38 L688.4 439.54 L690.2 438.96 L692 438.64 L693.8 438.51 L695.6 438.39 L697.4 438.15 L699.2 437.65 L701 436.87 L702.8 435.87 L704.6 434.8 L706.4 433.82 L708.2 433.06 L710 432.58 L711.8 432.32 L713.6 432.17 L715.4 431.96 L717.2 431.55 L719 430.85 L720.8 429.89 L722.6 428.79 L724.4 427.71 L726.2 426.79 L728 426.13 L729.8 425.74 L731.6 425.52 L733.4 425.32 L735.2 424.97 L737 424.37 L738.8 423.49 L740.6 422.4 L742.4 421.24 L744.2 420.19 L746 419.36 L747.8 418.82 L749.6 418.49 L751.4 418.27 L753.2 417.97 L755 417.46 L756.8 416.67 L758.6 415.63 L760.4 414.45 L762.2 413.29 L764 412.32 L765.8 411.6 L767.6 411.15 L769.4 410.86 L771.2 410.59 L773 410.16 L774.8 409.47 L776.6 408.51 L778.4 407.34 L780.2 406.12 L782 405.01 L783.8 404.13 L785.6 403.53 L787.4 403.16 L789.2 402.86 L791 402.49 L792.8 401.91 L794.6 401.04 L796.4 399.92 L798.2 398.68 L800 397.47 M620 460.8 L621.8 460.57 L623.6 460.03 L625.4 459.35 L627.2 458.69 L629 458.2 L630.8 457.97 L632.6 457.97 L634.4 458.11 L636.2 458.23 L638 458.17 L639.8 457.83 L641.6 457.2 L643.4 456.39 L645.2 455.54 L647 454.81 L648.8 454.32 L650.6 454.1 L652.4 454.08 L654.2 454.12 L656 454.05 L657.8 453.75 L659.6 453.16 L661.4 452.33 L663.2 451.38 L665 450.49 L666.8 449.8 L668.6 449.37 L670.4 449.2 L672.2 449.15 L674 449.08 L675.8 448.83 L677.6 448.31 L679.4 447.51 L681.2 446.54 L683 445.54 L684.8 444.67 L686.6 444.06 L688.4 443.71 L690.2 443.56 L692 443.47 L693.8 443.26 L695.6 442.82 L697.4 442.09 L699.2 441.13 L701 440.07 L702.8 439.07 L704.6 438.28 L706.4 437.76 L708.2 437.48 L710 437.33 L711.8 437.15 L713.6 436.78 L715.4 436.14 L717.2 435.23 L719 434.15 L720.8 433.06 L722.6 432.11 L724.4 431.41 L726.2 430.99 L728 430.76 L729.8 430.57 L731.6 430.26 L733.4 429.71 L735.2 428.88 L737 427.83 L738.8 426.68 L740.6 425.61 L742.4 424.74 L744.2 424.16 L746 423.81 L747.8 423.58 L749.6 423.31 L751.4 422.85 L753.2 422.12 L755 421.12 L756.8 419.96 L758.6 418.79 L760.4 417.78 L762.2 417.03 L764 416.54 L765.8 416.25 L767.6 415.98 L769.4 415.6 L771.2 414.96 L773 414.05 L774.8 412.91 L776.6 411.69 L778.4 410.56 L780.2 409.64 L782 409.01 L783.8 408.6 L785.6 408.31 L787.4 407.97 L789.2 407.43 L791 406.62 L792.8 405.54 L794.6 404.31 L796.4 403.09 L798.2 402.03 L800 401.23 M620 464.4 L621.8 463.82 L623.6 463.2 L625.4 462.72 L627.2 462.49 L629 462.49 L630.8 462.65 L632.6 462.81 L634.4 462.81 L636.2 462.54 L638 461.98 L639.8 461.21 L641.6 460.38 L643.4 459.64 L645.2 459.12 L647 458.87 L648.8 458.84 L650.6 458.9 L652.4 458.88 L654.2 458.63 L656 458.1 L657.8 457.32 L659.6 456.4 L661.4 455.5 L663.2 454.78 L665 454.32 L666.8 454.12 L668.6 454.07 L670.4 454.03 L672.2 453.83 L674 453.37 L675.8 452.62 L677.6 451.68 L679.4 450.68 L681.2 449.8 L683 449.14 L684.8 448.77 L686.6 448.6 L688.4 448.52 L690.2 448.35 L692 447.96 L693.8 447.29 L695.6 446.37 L697.4 445.32 L699.2 444.31 L701 443.48 L702.8 442.93 L704.6 442.62 L706.4 442.47 L708.2 442.31 L710 441.99 L711.8 441.41 L713.6 440.55 L715.4 439.49 L717.2 438.4 L719 437.42 L720.8 436.69 L722.6 436.23 L724.4 435.98 L726.2 435.8 L728 435.54 L729.8 435.04 L731.6 434.26 L733.4 433.24 L735.2 432.1 L737 431.01 L738.8 430.12 L740.6 429.49 L742.4 429.11 L744.2 428.89 L746 428.64 L747.8 428.23 L749.6 427.55 L751.4 426.59 L753.2 425.45 L755 424.28 L756.8 423.24 L758.6 422.45 L760.4 421.93 L762.2 421.62 L764 421.36 L765.8 421.01 L767.6 420.43 L769.4 419.57 L771.2 418.47 L773 417.26 L774.8 416.1 L776.6 415.15 L778.4 414.47 L780.2 414.04 L782 413.75 L783.8 413.43 L785.6 412.94 L787.4 412.18 L789.2 411.14 L791 409.94 L792.8 408.7 L794.6 407.61 L796.4 406.77 L798.2 406.2 L800 405.83 M620 467.56 L621.8 467.14 L623.6 466.92 L625.4 466.94 L627.2 467.12 L629 467.32 L630.8 467.39 L632.6 467.2 L634.4 466.71 L636.2 465.99 L638 465.18 L639.8 464.43 L641.6 463.89 L643.4 463.62 L645.2 463.58 L647 463.64 L648.8 463.66 L650.6 463.48 L652.4 463.01 L654.2 462.28 L656 461.38 L657.8 460.49 L659.6 459.74 L661.4 459.25 L663.2 459.02 L665 458.97 L666.8 458.95 L668.6 458.8 L670.4 458.39 L672.2 457.71 L674 456.8 L675.8 455.81 L677.6 454.9 L679.4 454.22 L681.2 453.8 L683 453.62 L684.8 453.55 L686.6 453.41 L688.4 453.08 L690.2 452.46 L692 451.59 L693.8 450.56 L695.6 449.54 L697.4 448.68 L699.2 448.08 L701 447.75 L702.8 447.59 L704.6 447.46 L706.4 447.18 L708.2 446.65 L710 445.84 L711.8 444.82 L713.6 443.73 L715.4 442.73 L717.2 441.96 L719 441.46 L720.8 441.19 L722.6 441.02 L724.4 440.79 L726.2 440.34 L728 439.62 L729.8 438.64 L731.6 437.52 L733.4 436.41 L735.2 435.48 L737 434.81 L738.8 434.41 L740.6 434.17 L742.4 433.95 L744.2 433.58 L746 432.95 L747.8 432.05 L749.6 430.94 L751.4 429.77 L753.2 428.7 L755 427.87 L756.8 427.31 L758.6 426.97 L760.4 426.73 L762.2 426.41 L764 425.88 L765.8 425.07 L767.6 424 L769.4 422.81 L771.2 421.64 L773 420.65 L774.8 419.93 L776.6 419.47 L778.4 419.17 L780.2 418.88 L782 418.43 L783.8 417.72 L785.6 416.73 L787.4 415.55 L789.2 414.31 L791 413.19 L792.8 412.31 L794.6 411.7 L796.4 411.32 L798.2 411.01 L800 410.62 M620 471.2 L621.8 471.28 L623.6 471.5 L625.4 471.76 L627.2 471.89 L629 471.78 L630.8 471.37 L632.6 470.71 L634.4 469.93 L636.2 469.18 L638 468.62 L639.8 468.32 L641.6 468.27 L643.4 468.35 L645.2 468.41 L647 468.28 L648.8 467.88 L650.6 467.2 L652.4 466.34 L654.2 465.44 L656 464.68 L657.8 464.15 L659.6 463.9 L661.4 463.84 L663.2 463.84 L665 463.74 L666.8 463.39 L668.6 462.76 L670.4 461.89 L672.2 460.91 L674 459.99 L675.8 459.27 L677.6 458.83 L679.4 458.62 L681.2 458.55 L683 458.45 L684.8 458.17 L686.6 457.61 L688.4 456.78 L690.2 455.77 L692 454.75 L693.8 453.87 L695.6 453.23 L697.4 452.87 L699.2 452.7 L701 452.58 L702.8 452.34 L704.6 451.87 L706.4 451.11 L708.2 450.12 L710 449.04 L711.8 448.02 L713.6 447.21 L715.4 446.68 L717.2 446.39 L719 446.22 L720.8 446.01 L722.6 445.62 L724.4 444.95 L726.2 444.01 L728 442.91 L729.8 441.8 L731.6 440.84 L733.4 440.13 L735.2 439.7 L737 439.45 L738.8 439.24 L740.6 438.91 L742.4 438.34 L744.2 437.48 L746 436.4 L747.8 435.24 L749.6 434.15 L751.4 433.28 L753.2 432.68 L755 432.32 L756.8 432.08 L758.6 431.79 L760.4 431.31 L762.2 430.55 L764 429.53 L765.8 428.35 L767.6 427.17 L769.4 426.15 L771.2 425.39 L773 424.89 L774.8 424.58 L776.6 424.3 L778.4 423.9 L780.2 423.24 L782 422.3 L783.8 421.15 L785.6 419.91 L787.4 418.77 L789.2 417.85 L791 417.2 L792.8 416.79 L794.6 416.49 L796.4 416.13 L798.2 415.57 L800 414.73 M620 475.72 L621.8 476.07 L623.6 476.3 L625.4 476.28 L627.2 475.96 L629 475.37 L630.8 474.62 L632.6 473.89 L634.4 473.31 L636.2 472.99 L638 472.93 L639.8 473.02 L641.6 473.11 L643.4 473.04 L645.2 472.71 L647 472.09 L648.8 471.26 L650.6 470.38 L652.4 469.59 L654.2 469.04 L656 468.76 L657.8 468.69 L659.6 468.7 L661.4 468.64 L663.2 468.35 L665 467.78 L666.8 466.95 L668.6 465.99 L670.4 465.06 L672.2 464.32 L674 463.83 L675.8 463.61 L677.6 463.53 L679.4 463.46 L681.2 463.22 L683 462.72 L684.8 461.94 L686.6 460.97 L688.4 459.95 L690.2 459.04 L692 458.37 L693.8 457.97 L695.6 457.79 L697.4 457.68 L699.2 457.48 L701 457.06 L702.8 456.36 L704.6 455.41 L706.4 454.34 L708.2 453.31 L710 452.46 L711.8 451.89 L713.6 451.57 L715.4 451.4 L717.2 451.22 L719 450.87 L720.8 450.26 L722.6 449.37 L724.4 448.29 L726.2 447.18 L728 446.19 L729.8 445.45 L731.6 444.97 L733.4 444.71 L735.2 444.51 L737 444.22 L738.8 443.7 L740.6 442.9 L742.4 441.85 L744.2 440.7 L746 439.59 L747.8 438.68 L749.6 438.05 L751.4 437.66 L753.2 437.42 L755 437.15 L756.8 436.72 L758.6 436.01 L760.4 435.03 L762.2 433.88 L764 432.69 L765.8 431.64 L767.6 430.84 L769.4 430.31 L771.2 429.98 L773 429.72 L774.8 429.35 L776.6 428.74 L778.4 427.85 L780.2 426.73 L782 425.51 L783.8 424.34 L785.6 423.38 L787.4 422.7 L789.2 422.26 L791 421.95 L792.8 421.62 L794.6 421.11 L796.4 420.32 L798.2 419.27 L800 418.04 M620 480.54 L621.8 480.66 L623.6 480.45 L625.4 479.94 L627.2 479.25 L629 478.53 L630.8 477.96 L632.6 477.62 L634.4 477.54 L636.2 477.64 L638 477.76 L639.8 477.75 L641.6 477.48 L643.4 476.93 L645.2 476.15 L647 475.27 L648.8 474.48 L650.6 473.9 L652.4 473.59 L654.2 473.51 L656 473.53 L657.8 473.5 L659.6 473.27 L661.4 472.76 L663.2 471.98 L665 471.05 L666.8 470.12 L668.6 469.34 L670.4 468.83 L672.2 468.57 L674 468.49 L675.8 468.44 L677.6 468.25 L679.4 467.81 L681.2 467.08 L683 466.14 L684.8 465.12 L686.6 464.2 L688.4 463.49 L690.2 463.06 L692 462.86 L693.8 462.76 L695.6 462.6 L697.4 462.23 L699.2 461.58 L701 460.67 L702.8 459.62 L704.6 458.58 L706.4 457.7 L708.2 457.09 L710 456.75 L711.8 456.57 L713.6 456.41 L715.4 456.11 L717.2 455.55 L719 454.71 L720.8 453.66 L722.6 452.55 L724.4 451.53 L726.2 450.75 L728 450.24 L729.8 449.96 L731.6 449.77 L733.4 449.51 L735.2 449.04 L737 448.29 L738.8 447.29 L740.6 446.14 L742.4 445.03 L744.2 444.08 L746 443.41 L747.8 442.99 L749.6 442.74 L751.4 442.5 L753.2 442.11 L755 441.45 L756.8 440.52 L758.6 439.39 L760.4 438.21 L762.2 437.13 L764 436.29 L765.8 435.72 L767.6 435.37 L769.4 435.11 L771.2 434.78 L773 434.22 L774.8 433.39 L776.6 432.3 L778.4 431.09 L780.2 429.91 L782 428.91 L783.8 428.19 L785.6 427.72 L787.4 427.4 L789.2 427.09 L791 426.62 L792.8 425.89 L794.6 424.88 L796.4 423.68 L798.2 422.44 L800 421.31 M620 484.77 L621.8 484.4 L623.6 483.79 L625.4 483.11 L627.2 482.54 L629 482.19 L630.8 482.1 L632.6 482.21 L634.4 482.36 L636.2 482.41 L638 482.21 L639.8 481.72 L641.6 480.99 L643.4 480.14 L645.2 479.34 L647 478.73 L648.8 478.39 L650.6 478.29 L652.4 478.33 L654.2 478.34 L656 478.16 L657.8 477.71 L659.6 476.99 L661.4 476.08 L663.2 475.15 L665 474.35 L666.8 473.8 L668.6 473.52 L670.4 473.43 L672.2 473.4 L674 473.25 L675.8 472.87 L677.6 472.2 L679.4 471.29 L681.2 470.29 L683 469.34 L684.8 468.6 L686.6 468.14 L688.4 467.91 L690.2 467.82 L692 467.68 L693.8 467.37 L695.6 466.77 L697.4 465.91 L699.2 464.88 L701 463.84 L702.8 462.93 L704.6 462.29 L706.4 461.91 L708.2 461.72 L710 461.58 L711.8 461.31 L713.6 460.81 L715.4 460.02 L717.2 459.01 L719 457.9 L720.8 456.87 L722.6 456.05 L724.4 455.5 L726.2 455.19 L728 455.01 L729.8 454.78 L731.6 454.36 L733.4 453.66 L735.2 452.7 L737 451.58 L738.8 450.45 L740.6 449.48 L742.4 448.76 L744.2 448.31 L746 448.05 L747.8 447.82 L749.6 447.47 L751.4 446.87 L753.2 445.99 L755 444.89 L756.8 443.71 L758.6 442.61 L760.4 441.73 L762.2 441.12 L764 440.75 L765.8 440.5 L767.6 440.19 L769.4 439.68 L771.2 438.9 L773 437.86 L774.8 436.66 L776.6 435.47 L778.4 434.44 L780.2 433.67 L782 433.17 L783.8 432.85 L785.6 432.55 L787.4 432.12 L789.2 431.44 L791 430.48 L792.8 429.31 L794.6 428.06 L796.4 426.91 L798.2 425.98 L800 425.33 M620 488.16 L621.8 487.58 L623.6 487.03 L625.4 486.69 L627.2 486.6 L629 486.71 L630.8 486.9 L632.6 487 L634.4 486.88 L636.2 486.46 L638 485.78 L639.8 484.96 L641.6 484.16 L643.4 483.53 L645.2 483.17 L647 483.05 L648.8 483.09 L650.6 483.13 L652.4 483.01 L654.2 482.62 L656 481.95 L657.8 481.08 L659.6 480.16 L661.4 479.34 L663.2 478.75 L665 478.44 L666.8 478.34 L668.6 478.32 L670.4 478.22 L672.2 477.89 L674 477.28 L675.8 476.42 L677.6 475.43 L679.4 474.47 L681.2 473.7 L683 473.2 L684.8 472.95 L686.6 472.85 L688.4 472.75 L690.2 472.48 L692 471.94 L693.8 471.13 L695.6 470.13 L697.4 469.08 L699.2 468.15 L701 467.47 L702.8 467.05 L704.6 466.85 L706.4 466.72 L708.2 466.5 L710 466.05 L711.8 465.31 L713.6 464.34 L715.4 463.24 L717.2 462.19 L719 461.34 L720.8 460.75 L722.6 460.42 L724.4 460.23 L726.2 460.03 L728 459.65 L729.8 459.01 L731.6 458.1 L733.4 457 L735.2 455.87 L737 454.86 L738.8 454.11 L740.6 453.62 L742.4 453.35 L744.2 453.13 L746 452.82 L747.8 452.27 L749.6 451.44 L751.4 450.38 L753.2 449.2 L755 448.08 L756.8 447.17 L758.6 446.52 L760.4 446.13 L762.2 445.87 L764 445.58 L765.8 445.12 L767.6 444.4 L769.4 443.4 L771.2 442.22 L773 441.02 L774.8 439.96 L776.6 439.15 L778.4 438.61 L780.2 438.28 L782 437.99 L783.8 437.6 L785.6 436.97 L787.4 436.06 L789.2 434.92 L791 433.68 L792.8 432.51 L794.6 431.54 L796.4 430.85 L798.2 430.4 L800 430.09 M620 491.37 L621.8 491.09 L623.6 491.01 L625.4 491.15 L627.2 491.37 L629 491.53 L630.8 491.48 L632.6 491.14 L634.4 490.53 L636.2 489.74 L638 488.95 L639.8 488.3 L641.6 487.91 L643.4 487.78 L645.2 487.82 L647 487.89 L648.8 487.82 L650.6 487.49 L652.4 486.88 L654.2 486.05 L656 485.14 L657.8 484.3 L659.6 483.69 L661.4 483.35 L663.2 483.23 L665 483.22 L666.8 483.16 L668.6 482.88 L670.4 482.33 L672.2 481.51 L674 480.55 L675.8 479.58 L677.6 478.79 L679.4 478.25 L681.2 477.97 L683 477.87 L684.8 477.78 L686.6 477.56 L688.4 477.08 L690.2 476.32 L692 475.35 L693.8 474.31 L695.6 473.36 L697.4 472.64 L699.2 472.19 L701 471.97 L702.8 471.85 L704.6 471.66 L706.4 471.26 L708.2 470.58 L710 469.64 L711.8 468.57 L713.6 467.51 L715.4 466.62 L717.2 465.99 L719 465.63 L720.8 465.44 L722.6 465.26 L724.4 464.93 L726.2 464.34 L728 463.47 L729.8 462.4 L731.6 461.27 L733.4 460.24 L735.2 459.45 L737 458.93 L738.8 458.63 L740.6 458.43 L742.4 458.14 L744.2 457.65 L746 456.87 L747.8 455.85 L749.6 454.68 L751.4 453.55 L753.2 452.6 L755 451.91 L756.8 451.49 L758.6 451.22 L760.4 450.96 L762.2 450.55 L764 449.87 L765.8 448.92 L767.6 447.77 L769.4 446.56 L771.2 445.48 L773 444.63 L774.8 444.05 L776.6 443.7 L778.4 443.42 L780.2 443.06 L782 442.49 L783.8 441.63 L785.6 440.52 L787.4 439.29 L789.2 438.1 L791 437.1 L792.8 436.37 L794.6 435.89 L796.4 435.57 L798.2 435.24 L800 434.75 M620 495.27 L621.8 495.47 L623.6 495.75 L625.4 495.98 L627.2 496.01 L629 495.75 L630.8 495.21 L632.6 494.47 L634.4 493.69 L636.2 493.03 L638 492.62 L639.8 492.46 L641.6 492.51 L643.4 492.6 L645.2 492.58 L647 492.32 L648.8 491.77 L650.6 490.99 L652.4 490.09 L654.2 489.25 L656 488.6 L657.8 488.23 L659.6 488.1 L661.4 488.1 L663.2 488.06 L665 487.84 L666.8 487.35 L668.6 486.58 L670.4 485.64 L672.2 484.68 L674 483.85 L675.8 483.28 L677.6 482.97 L679.4 482.86 L681.2 482.8 L683 482.62 L684.8 482.2 L686.6 481.49 L688.4 480.56 L690.2 479.52 L692 478.56 L693.8 477.8 L695.6 477.31 L697.4 477.07 L699.2 476.95 L701 476.79 L702.8 476.44 L704.6 475.82 L706.4 474.93 L708.2 473.87 L710 472.81 L711.8 471.89 L713.6 471.23 L715.4 470.83 L717.2 470.63 L719 470.46 L720.8 470.18 L722.6 469.64 L724.4 468.83 L726.2 467.79 L728 466.66 L729.8 465.62 L731.6 464.78 L733.4 464.22 L735.2 463.9 L737 463.7 L738.8 463.45 L740.6 463 L742.4 462.28 L744.2 461.3 L746 460.15 L747.8 459.01 L749.6 458.03 L751.4 457.3 L753.2 456.84 L755 456.57 L756.8 456.32 L758.6 455.95 L760.4 455.32 L762.2 454.42 L764 453.3 L765.8 452.1 L767.6 450.99 L769.4 450.1 L771.2 449.49 L773 449.11 L774.8 448.84 L776.6 448.51 L778.4 447.98 L780.2 447.17 L782 446.11 L783.8 444.9 L785.6 443.69 L787.4 442.65 L789.2 441.88 L791 441.37 L792.8 441.04 L794.6 440.72 L796.4 440.28 L798.2 439.57 L800 438.59 M620 499.96 L621.8 500.31 L623.6 500.44 L625.4 500.28 L627.2 499.81 L629 499.13 L630.8 498.38 L632.6 497.72 L634.4 497.28 L636.2 497.11 L638 497.15 L639.8 497.27 L641.6 497.3 L643.4 497.1 L645.2 496.62 L647 495.88 L648.8 495.01 L650.6 494.16 L652.4 493.49 L654.2 493.09 L656 492.94 L657.8 492.94 L659.6 492.93 L661.4 492.77 L663.2 492.33 L665 491.62 L666.8 490.71 L668.6 489.75 L670.4 488.91 L672.2 488.3 L674 487.96 L675.8 487.83 L677.6 487.78 L679.4 487.65 L681.2 487.28 L683 486.63 L684.8 485.74 L686.6 484.72 L688.4 483.74 L690.2 482.95 L692 482.43 L693.8 482.16 L695.6 482.04 L697.4 481.91 L699.2 481.61 L701 481.04 L702.8 480.2 L704.6 479.17 L706.4 478.1 L708.2 477.15 L710 476.45 L711.8 476.02 L713.6 475.8 L715.4 475.65 L717.2 475.4 L719 474.92 L720.8 474.16 L722.6 473.16 L724.4 472.04 L726.2 470.98 L728 470.11 L729.8 469.51 L731.6 469.17 L733.4 468.96 L735.2 468.74 L737 468.34 L738.8 467.67 L740.6 466.73 L742.4 465.61 L744.2 464.46 L746 463.45 L747.8 462.68 L749.6 462.19 L751.4 461.9 L753.2 461.66 L755 461.33 L756.8 460.76 L758.6 459.9 L760.4 458.82 L762.2 457.63 L764 456.49 L765.8 455.57 L767.6 454.91 L769.4 454.51 L771.2 454.24 L773 453.94 L774.8 453.45 L776.6 452.7 L778.4 451.68 L780.2 450.48 L782 449.27 L783.8 448.2 L785.6 447.39 L787.4 446.84 L789.2 446.49 L791 446.2 L792.8 445.79 L794.6 445.14 L796.4 444.2 L798.2 443.04 L800 441.79 M620 504.7 L621.8 504.68 L623.6 504.32 L625.4 503.72 L627.2 503 L629 502.35 L630.8 501.9 L632.6 501.71 L634.4 501.75 L636.2 501.89 L638 501.97 L639.8 501.84 L641.6 501.42 L643.4 500.74 L645.2 499.9 L647 499.05 L648.8 498.36 L650.6 497.92 L652.4 497.75 L654.2 497.75 L656 497.77 L657.8 497.66 L659.6 497.28 L661.4 496.63 L663.2 495.75 L665 494.8 L666.8 493.94 L668.6 493.3 L670.4 492.93 L672.2 492.79 L674 492.75 L675.8 492.64 L677.6 492.33 L679.4 491.74 L681.2 490.89 L683 489.89 L684.8 488.9 L686.6 488.08 L688.4 487.53 L690.2 487.23 L692 487.1 L693.8 486.99 L695.6 486.74 L697.4 486.23 L699.2 485.44 L701 484.44 L702.8 483.37 L704.6 482.41 L706.4 481.67 L708.2 481.2 L710 480.96 L711.8 480.82 L713.6 480.61 L715.4 480.18 L717.2 479.47 L719 478.51 L720.8 477.41 L722.6 476.33 L724.4 475.43 L726.2 474.79 L728 474.42 L729.8 474.21 L731.6 474 L733.4 473.65 L735.2 473.03 L737 472.14 L738.8 471.05 L740.6 469.9 L742.4 468.86 L744.2 468.05 L746 467.52 L747.8 467.21 L749.6 466.99 L751.4 466.69 L753.2 466.17 L755 465.37 L756.8 464.32 L758.6 463.14 L760.4 461.99 L762.2 461.03 L764 460.34 L765.8 459.9 L767.6 459.62 L769.4 459.34 L771.2 458.91 L773 458.21 L774.8 457.23 L776.6 456.06 L778.4 454.85 L780.2 453.75 L782 452.89 L783.8 452.31 L785.6 451.94 L787.4 451.65 L789.2 451.28 L791 450.68 L792.8 449.8 L794.6 448.67 L796.4 447.43 L798.2 446.23 L800 445.22 M628 451.13 L603 455 M632 450.5 L607 455 M636 449.79 L611 455 M640 449.01 L615 455 M644 448.18 L619 455 M648 447.3 L623 455 M652 446.37 L627 455 M656 445.4 L631 455 M660 444.39 L635 455 M664 443.34 L639 455 M668 442.26 L643 455 M672 441.15 L647 455 M676 440.01 L651 455 M680 438.84 L655 455 M684 437.64 L659 455 M688 436.42 L663 455 M692 435.17 L667 455 M696 433.89 L671 455 M700 432.59 L675 455 M704 431.27 L679 455 M708 429.93 L683 455 M712 428.56 L687 455 M716 427.18 L691 455 M720 425.77 L695 455 M724 424.34 L699 455 M728 422.9 L703 455 M732 421.43 L707 455 M736 419.95 L711 455 M740 418.45 L715 455 M744 416.93 L719 455 M748 415.39 L723 455 M752 413.84 L727 455 M756 412.27 L731 455 M760 410.69 L735 455 M764 409.09 L739 455 M768 407.47 L743 455 M772 405.84 L747 455 M776 404.19 L751 455 M780 402.53 L755 455 M784 400.85 L759 455 M788 399.16 L763 455 M792 397.45 L767 455 M796 395.73 L771 455 M800 394 L775 455 M804 392.25 L779 455" fill="none" stroke="#fff" stroke-width="0.5" opacity="0.1"/><path d="M801 150 Q786 260 801 370" fill="none" stroke="#fff" stroke-width="1.2" opacity="0.12"/><g filter="url(#sh)" opacity="0.35" fill="#1a1040"><ellipse cx="186" cy="78" rx="24" ry="24"/><rect x="236" y="50" width="44" height="55"/><rect x="350" y="50" width="36" height="55"/><rect x="452" y="50" width="36" height="55"/><rect x="560" y="50" width="12" height="55"/></g><rect x="62" y="338.74" width="588" height="1.2" fill="#ffffff" opacity="0.42"/><rect x="62" y="314.38" width="588" height="1.2" fill="#ffffff" opacity="0.42"/><rect x="62" y="290.02" width="588" height="1.2" fill="#ffffff" opacity="0.42"/><rect x="62" y="265.66" width="588" height="1.2" fill="#ffffff" opacity="0.42"/><rect x="62" y="241.3" width="588" height="1.2" fill="#ffffff" opacity="0.42"/><rect x="62" y="216.94" width="588" height="1.2" fill="#ffffff" opacity="0.42"/><rect x="62" y="192.58" width="588" height="1.2" fill="#ffffff" opacity="0.42"/><rect x="65" y="193.5" width="14" height="37.6" fill="#F39A1E"/><rect x="65" y="231.1" width="14" height="44.7" fill="#8ED0E8"/><rect x="65" y="275.8" width="14" height="35.9" fill="#2BAF9C"/><rect x="65" y="311.7" width="14" height="52" fill="#FDE16A"/><rect x="86.05" y="200.3" width="14" height="43.6" fill="#F39A1E"/><rect x="86.05" y="243.9" width="14" height="31.9" fill="#8ED0E8"/><rect x="86.05" y="275.8" width="14" height="35.9" fill="#2BAF9C"/><rect x="86.05" y="311.7" width="14" height="52" fill="#FDE16A"/><rect x="107.1" y="202.8" width="14" height="39.8" fill="#F39A1E"/><rect x="107.1" y="242.6" width="14" height="35.8" fill="#8ED0E8"/><rect x="107.1" y="278.4" width="14" height="34.6" fill="#2BAF9C"/><rect x="107.1" y="313" width="14" height="50.7" fill="#FDE16A"/><rect x="128.15" y="205.4" width="14" height="37.2" fill="#F39A1E"/><rect x="128.15" y="242.6" width="14" height="42.6" fill="#8ED0E8"/><rect x="128.15" y="285.2" width="14" height="30.4" fill="#2BAF9C"/><rect x="128.15" y="315.6" width="14" height="48.1" fill="#FDE16A"/><rect x="149.2" y="216.9" width="14" height="33.3" fill="#F39A1E"/><rect x="149.2" y="250.2" width="14" height="35" fill="#8ED0E8"/><rect x="149.2" y="285.2" width="14" height="28.9" fill="#2BAF9C"/><rect x="149.2" y="314.1" width="14" height="49.6" fill="#FDE16A"/><rect x="170.25" y="219.4" width="14" height="29.6" fill="#F39A1E"/><rect x="170.25" y="249" width="14" height="33.2" fill="#8ED0E8"/><rect x="170.25" y="282.2" width="14" height="30.8" fill="#2BAF9C"/><rect x="170.25" y="313" width="14" height="50.7" fill="#FDE16A"/><rect x="191.3" y="219.4" width="14" height="36.1" fill="#F39A1E"/><rect x="191.3" y="255.5" width="14" height="28.2" fill="#8ED0E8"/><rect x="191.3" y="283.7" width="14" height="24.4" fill="#2BAF9C"/><rect x="191.3" y="308.1" width="14" height="55.6" fill="#FDE16A"/><rect x="212.35" y="221.1" width="14" height="34.4" fill="#F39A1E"/><rect x="212.35" y="255.5" width="14" height="37.3" fill="#8ED0E8"/><rect x="212.35" y="292.8" width="14" height="22.8" fill="#2BAF9C"/><rect x="212.35" y="315.6" width="14" height="48.1" fill="#FDE16A"/><rect x="233.4" y="224.5" width="14" height="29.6" fill="#F39A1E"/><rect x="233.4" y="254.1" width="14" height="37.4" fill="#8ED0E8"/><rect x="233.4" y="291.5" width="14" height="24.1" fill="#2BAF9C"/><rect x="233.4" y="315.6" width="14" height="48.1" fill="#FDE16A"/><rect x="254.45" y="225.8" width="14" height="32.1" fill="#F39A1E"/><rect x="254.45" y="257.9" width="14" height="32.2" fill="#8ED0E8"/><rect x="254.45" y="290.1" width="14" height="25.5" fill="#2BAF9C"/><rect x="254.45" y="315.6" width="14" height="48.1" fill="#FDE16A"/><rect x="275.5" y="232.2" width="14" height="33.5" fill="#F39A1E"/><rect x="275.5" y="265.7" width="14" height="36" fill="#8ED0E8"/><rect x="275.5" y="301.7" width="14" height="21.3" fill="#2BAF9C"/><rect x="275.5" y="323" width="14" height="40.7" fill="#FDE16A"/><rect x="296.55" y="233.4" width="14" height="30.9" fill="#F39A1E"/><rect x="296.55" y="264.3" width="14" height="29.6" fill="#8ED0E8"/><rect x="296.55" y="293.9" width="14" height="30.6" fill="#2BAF9C"/><rect x="296.55" y="324.5" width="14" height="39.2" fill="#FDE16A"/><rect x="317.6" y="236" width="14" height="28.3" fill="#F39A1E"/><rect x="317.6" y="264.3" width="14" height="33.6" fill="#8ED0E8"/><rect x="317.6" y="297.9" width="14" height="25.5" fill="#2BAF9C"/><rect x="317.6" y="323.4" width="14" height="40.3" fill="#FDE16A"/><rect x="338.65" y="238.8" width="14" height="28" fill="#F39A1E"/><rect x="338.65" y="266.8" width="14" height="24.7" fill="#8ED0E8"/><rect x="338.65" y="291.5" width="14" height="25.1" fill="#2BAF9C"/><rect x="338.65" y="316.6" width="14" height="47.1" fill="#FDE16A"/><rect x="359.7" y="241.3" width="14" height="28.1" fill="#F39A1E"/><rect x="359.7" y="269.4" width="14" height="30.9" fill="#8ED0E8"/><rect x="359.7" y="300.3" width="14" height="23.1" fill="#2BAF9C"/><rect x="359.7" y="323.4" width="14" height="40.3" fill="#FDE16A"/><rect x="380.75" y="241.3" width="14" height="28.1" fill="#F39A1E"/><rect x="380.75" y="269.4" width="14" height="29.8" fill="#8ED0E8"/><rect x="380.75" y="299.2" width="14" height="20.6" fill="#2BAF9C"/><rect x="380.75" y="319.8" width="14" height="43.9" fill="#FDE16A"/><rect x="401.8" y="242.4" width="14" height="28.3" fill="#F39A1E"/><rect x="401.8" y="270.7" width="14" height="29.7" fill="#8ED0E8"/><rect x="401.8" y="300.4" width="14" height="21.9" fill="#2BAF9C"/><rect x="401.8" y="322.3" width="14" height="41.4" fill="#FDE16A"/><rect x="422.85" y="243.9" width="14" height="24.4" fill="#F39A1E"/><rect x="422.85" y="268.3" width="14" height="30.9" fill="#8ED0E8"/><rect x="422.85" y="299.2" width="14" height="16.2" fill="#2BAF9C"/><rect x="422.85" y="315.4" width="14" height="48.3" fill="#FDE16A"/><rect x="443.9" y="248.7" width="14" height="28.4" fill="#F39A1E"/><rect x="443.9" y="277.1" width="14" height="28.1" fill="#8ED0E8"/><rect x="443.9" y="305.2" width="14" height="23.3" fill="#2BAF9C"/><rect x="443.9" y="328.5" width="14" height="35.2" fill="#FDE16A"/><rect x="464.95" y="252.6" width="14" height="28.3" fill="#F39A1E"/><rect x="464.95" y="280.9" width="14" height="27.1" fill="#8ED0E8"/><rect x="464.95" y="308" width="14" height="24.5" fill="#2BAF9C"/><rect x="464.95" y="332.5" width="14" height="31.2" fill="#FDE16A"/><rect x="486" y="252.6" width="14" height="22.1" fill="#F39A1E"/><rect x="486" y="274.7" width="14" height="25.7" fill="#8ED0E8"/><rect x="486" y="300.4" width="14" height="25.7" fill="#2BAF9C"/><rect x="486" y="326.1" width="14" height="37.6" fill="#FDE16A"/><rect x="507.05" y="257.9" width="14" height="24.7" fill="#F39A1E"/><rect x="507.05" y="282.6" width="14" height="25.7" fill="#8ED0E8"/><rect x="507.05" y="308.3" width="14" height="19" fill="#2BAF9C"/><rect x="507.05" y="327.3" width="14" height="36.4" fill="#FDE16A"/><rect x="528.1" y="259" width="14" height="27.2" fill="#F39A1E"/><rect x="528.1" y="286.2" width="14" height="28" fill="#8ED0E8"/><rect x="528.1" y="314.2" width="14" height="16.7" fill="#2BAF9C"/><rect x="528.1" y="330.9" width="14" height="32.8" fill="#FDE16A"/><rect x="549.15" y="264.3" width="14" height="24.7" fill="#F39A1E"/><rect x="549.15" y="289" width="14" height="32" fill="#8ED0E8"/><rect x="549.15" y="321" width="14" height="13.9" fill="#2BAF9C"/><rect x="549.15" y="334.9" width="14" height="28.8" fill="#FDE16A"/><rect x="570.2" y="264.3" width="14" height="23.4" fill="#F39A1E"/><rect x="570.2" y="287.7" width="14" height="28" fill="#8ED0E8"/><rect x="570.2" y="315.7" width="14" height="15.3" fill="#2BAF9C"/><rect x="570.2" y="331" width="14" height="32.7" fill="#FDE16A"/><rect x="591.25" y="273.4" width="14" height="25.4" fill="#F39A1E"/><rect x="591.25" y="298.8" width="14" height="23.4" fill="#8ED0E8"/><rect x="591.25" y="322.2" width="14" height="16.6" fill="#2BAF9C"/><rect x="591.25" y="338.8" width="14" height="24.9" fill="#FDE16A"/><rect x="612.3" y="274.7" width="14" height="20.2" fill="#F39A1E"/><rect x="612.3" y="294.9" width="14" height="23.1" fill="#8ED0E8"/><rect x="612.3" y="318" width="14" height="11.7" fill="#2BAF9C"/><rect x="612.3" y="329.7" width="14" height="34" fill="#FDE16A"/><rect x="633.35" y="284.5" width="14" height="19.5" fill="#F39A1E"/><rect x="633.35" y="304" width="14" height="31.7" fill="#8ED0E8"/><rect x="633.35" y="335.7" width="14" height="15.6" fill="#2BAF9C"/><rect x="633.35" y="351.3" width="14" height="12.4" fill="#FDE16A"/><rect x="62" y="362.9" width="588" height="1.8" fill="#ffffff"/><g font-family="Liberation Sans" font-size="12" fill="#ece6f2"><text x="55" y="365.9" text-anchor="end">0</text><text x="55" y="341.54" text-anchor="end">10</text><text x="55" y="317.18" text-anchor="end">20</text><text x="55" y="292.82" text-anchor="end">30</text><text x="55" y="268.46" text-anchor="end">40</text><text x="55" y="244.1" text-anchor="end">50</text><text x="55" y="219.74" text-anchor="end">60</text><text x="55" y="195.38" text-anchor="end">70</text></g><g font-family="Liberation Sans" font-size="12" fill="#ece6f2"><text x="72" y="378.7" text-anchor="middle">DK</text><text x="93.05" y="378.7" text-anchor="middle">FI</text><text x="114.1" y="378.7" text-anchor="middle">SE</text><text x="135.15" y="378.7" text-anchor="middle">NL</text><text x="156.2" y="378.7" text-anchor="middle">IE</text><text x="177.25" y="378.7" text-anchor="middle">MT</text><text x="198.3" y="378.7" text-anchor="middle">EE</text><text x="219.35" y="378.7" text-anchor="middle">LU</text><text x="240.4" y="378.7" text-anchor="middle">ES</text><text x="261.45" y="378.7" text-anchor="middle">AT</text><text x="282.5" y="378.7" text-anchor="middle">DE</text><text x="303.55" y="378.7" text-anchor="middle">BE</text><text x="324.6" y="378.7" text-anchor="middle">SI</text><text x="345.65" y="378.7" text-anchor="middle">LT</text><text x="366.7" y="378.7" text-anchor="middle" font-weight="bold">EU</text><text x="387.75" y="378.7" text-anchor="middle">FR</text><text x="408.8" y="378.7" text-anchor="middle">PT</text><text x="429.85" y="378.7" text-anchor="middle">LV</text><text x="450.9" y="378.7" text-anchor="middle">CZ</text><text x="471.95" y="378.7" text-anchor="middle">HR</text><text x="493" y="378.7" text-anchor="middle">IT</text><text x="514.05" y="378.7" text-anchor="middle">CY</text><text x="535.1" y="378.7" text-anchor="middle">SK</text><text x="556.15" y="378.7" text-anchor="middle">HU</text><text x="577.2" y="378.7" text-anchor="middle">PL</text><text x="598.25" y="378.7" text-anchor="middle">EL</text><text x="619.3" y="378.7" text-anchor="middle">BG</text><text x="640.35" y="378.7" text-anchor="middle">RO</text></g><g font-family="Liberation Sans" font-weight="bold" font-size="21" fill="#fff"><text transform="translate(152.68 130.3) scale(0.62 1)" stroke="#fff" stroke-width="1.1">D</text><text transform="translate(168.98 130.3) scale(0.72 1)" stroke="#fff" stroke-width="0.35">i</text><text transform="translate(179.1 130.3) scale(0.72 1)" stroke="#fff" stroke-width="0.35">g</text><text transform="translate(192.38 130.3) scale(0.72 1)" stroke="#fff" stroke-width="0.35">i</text><text transform="translate(202.4 130.3) scale(0.72 1)" stroke="#fff" stroke-width="0.35">t</text><text transform="translate(214.5 130.3) scale(0.72 1)" stroke="#fff" stroke-width="0.35">a</text><text transform="translate(227.53 130.3) scale(0.72 1)" stroke="#fff" stroke-width="0.35">l</text><text transform="translate(246.78 130.3) scale(0.62 1)" stroke="#fff" stroke-width="1.1">E</text><text transform="translate(260.8 130.3) scale(0.72 1)" stroke="#fff" stroke-width="0.35">c</text><text transform="translate(273.1 130.3) scale(0.72 1)" stroke="#fff" stroke-width="0.35">o</text><text transform="translate(287.03 130.3) scale(0.72 1)" stroke="#fff" stroke-width="0.35">n</text><text transform="translate(301.1 130.3) scale(0.72 1)" stroke="#fff" stroke-width="0.35">o</text><text transform="translate(314.18 130.3) scale(0.72 1)" stroke="#fff" stroke-width="0.35">m</text><text transform="translate(330.2 130.3) scale(0.72 1)" stroke="#fff" stroke-width="0.35">y</text><text transform="translate(356.7 130.3) scale(0.72 1)" stroke="#fff" stroke-width="0.35">a</text><text transform="translate(368.88 130.3) scale(0.72 1)" stroke="#fff" stroke-width="0.35">n</text><text transform="translate(383.8 130.3) scale(0.72 1)" stroke="#fff" stroke-width="0.35">d</text><text transform="translate(407.45 130.3) scale(0.62 1)" stroke="#fff" stroke-width="1.1">S</text><text transform="translate(421.45 130.3) scale(0.72 1)" stroke="#fff" stroke-width="0.35">o</text><text transform="translate(436.3 130.3) scale(0.72 1)" stroke="#fff" stroke-width="0.35">c</text><text transform="translate(449.38 130.3) scale(0.72 1)" stroke="#fff" stroke-width="0.35">i</text><text transform="translate(458.4 130.3) scale(0.72 1)" stroke="#fff" stroke-width="0.35">e</text><text transform="translate(471.7 130.3) scale(0.72 1)" stroke="#fff" stroke-width="0.35">t</text><text transform="translate(482.2 130.3) scale(0.72 1)" stroke="#fff" stroke-width="0.35">y</text><text transform="translate(505.43 130.3) scale(0.72 1)" stroke="#fff" stroke-width="1.1">I</text><text transform="translate(514.53 130.3) scale(0.72 1)" stroke="#fff" stroke-width="0.35">n</text><text transform="translate(529.45 130.3) scale(0.72 1)" stroke="#fff" stroke-width="0.35">d</text><text transform="translate(543.45 130.3) scale(0.72 1)" stroke="#fff" stroke-width="0.35">e</text><text transform="translate(556.6 130.3) scale(0.72 1)" stroke="#fff" stroke-width="0.35">x</text></g><g fill="none" stroke="#fff" stroke-width="2.9"><path d="M160.87 52.42 L160.84 52.43 A25.7 25.7 0 1 1 158.33 89.12 L158.56 89.45"/><path d="M158.1 68.51 L158.07 68.92 A18 18 0 1 1 182.49 88.71 L182.79 88.73"/><path d="M173.81 61.17 L173.44 61.44 A10.2 10.2 0 1 1 172.8 80.29 L173.1 80.45"/><circle cx="157.5" cy="53.7" r="2.6" stroke-width="2.7"/><circle cx="157.8" cy="72.1" r="2.6" stroke-width="2.7"/><circle cx="156.5" cy="86.5" r="2.6" stroke-width="2.7"/><circle cx="170.9" cy="63.3" r="2.6" stroke-width="2.7"/><circle cx="169.9" cy="78.8" r="2.6" stroke-width="2.7"/><circle cx="179.2" cy="88.5" r="2.6" stroke-width="2.7"/></g></svg>
<div class="t big" style="left:225.5px;transform:scaleX(0.87)">D</div>
<div class="t big" style="left:340px;transform:scaleX(0.75)">E</div>
<div class="t big" style="left:443px;transform:scaleX(0.8)">S</div>
<div class="t big" style="left:549px;transform:scaleX(0.95)">I</div>

<div class="t yr">2021</div>
<div class="leg" style="top:138.6px;transform:scaleX(0.909)">HUMAN</div>
<div class="leg" style="top:153.7px;transform:scaleX(0.835)">CAPITAL</div>
<div class="leg" style="top:221.8px;transform:scaleX(0.875)">CONNECTIVITY</div>
<div class="leg" style="top:286.8px;transform:scaleX(0.889)">INTEGRATION</div>
<div class="leg" style="top:301.9px;transform:scaleX(0.894)">OF DIGITAL</div>
<div class="leg" style="top:316.6px;transform:scaleX(0.841)">TECHNOLOGY</div>
<div class="leg" style="top:378.4px;transform:scaleX(0.885)">DIGITAL PUBLIC</div>
<div class="leg" style="top:393.3px;transform:scaleX(0.848)">SERVICES</div>

<div class="hash" style="left:340px">#DESIeu</div>
<div class="hash" style="left:396.5px;letter-spacing:0.2px">#DigitalEU</div>
<svg width="800" height="450" viewBox="0 0 800 450">

<g fill="none" stroke="#F0982A" stroke-width="1.3" stroke-linejoin="round">
<circle cx="715.6" cy="108.7" r="2.3"/>
<path d="M712.9 112.9 H719 Q720.1 112.9 720.1 114 V122.3 L718.9 122.8 L718.5 131.4 H716.9 L716.2 123.8 H715 L714.3 131.4 H712.7 L712.4 122.8 L711.3 122.3 V114 Q711.3 112.9 712.4 112.9 Z"/>
<circle cx="727.6" cy="108.7" r="2.3"/>
<path d="M724.7 112.9 H730.5 L733 123.6 H722.2 Z"/><path d="M725.9 124 V131.8 M729.3 124 V131.8" stroke-width="1.4"/>
</g>
<g fill="none" stroke="#8FD3EA" stroke-width="1.3" stroke-linejoin="round">
<rect x="706.3" y="188" width="13.4" height="9.3" rx="0.6"/>
<path d="M706.3 194.6 H719.7"/>
<path d="M713 197.3 V199.1 M709.8 199.1 H716.2"/>
<path d="M719.7 192.9 H728.4 Q731.4 192.9 731.4 195.9 V203.6"/>
<path d="M713 199.1 V205.8 Q713 208.4 716 208.4 H724.5"/>
<rect x="724.5" y="203.6" width="14.2" height="9.8" rx="0.6"/>
<path d="M724.5 210.7 H738.7"/>
<path d="M731.6 213.4 V215.6 M728.4 215.6 H734.8"/>
</g>
<g fill="none" stroke="#3CC0A8" stroke-width="1.3" stroke-linejoin="round">
<path d="M726.7 259 V254.5 Q726.7 253.5 725.7 253.5 H713.5 Q712.5 253.5 712.5 254.5 V277.8 Q712.5 278.8 713.5 278.8 H725.7 Q726.7 278.8 726.7 277.8 V270"/>
<path d="M714.2 273.5 H724"/>
<path d="M718 275.6 H719.5"/>
<path d="M730.24 261.88 L732.05 262.3 L732.05 265.1 L730.24 265.52 L730.23 265.55 L731.2 267.13 L729.23 269.1 L727.65 268.13 L727.62 268.14 L727.2 269.95 L724.4 269.95 L723.98 268.14 L723.95 268.13 L722.37 269.1 L720.4 267.13 L721.37 265.55 L721.36 265.52 L719.55 265.1 L719.55 262.3 L721.36 261.88 L721.37 261.85 L720.4 260.27 L722.37 258.3 L723.95 259.27 L723.98 259.26 L724.4 257.45 L727.2 257.45 L727.62 259.26 L727.65 259.27 L729.23 258.3 L731.2 260.27 L730.23 261.85Z"/>
<circle cx="725.8" cy="263.7" r="1.8"/>
</g>
<g fill="none" stroke="#F5D96A" stroke-width="1.2" stroke-linejoin="round">
<path d="M722.2 348.3 V343.5 H726.6 V346.1 H722.2"/>
<path d="M710.8 355.9 A11.7 7.6 0 0 1 734.2 355.9"/>
<rect x="709" y="356.3" width="27" height="2.6"/>
<rect x="711.5" y="359.2" width="4.6" height="1.2"/><rect x="712.3" y="360.4" width="3" height="7.6"/>
<rect x="720" y="359.2" width="4.6" height="1.2"/><rect x="720.8" y="360.4" width="3" height="7.6"/>
<rect x="728.5" y="359.2" width="4.6" height="1.2"/><rect x="729.3" y="360.4" width="3" height="7.6"/>
<path d="M710.7 368.4 H734.3"/>
<rect x="709" y="369.3" width="27" height="2.6"/>
</g>

</svg>
</body></html>
